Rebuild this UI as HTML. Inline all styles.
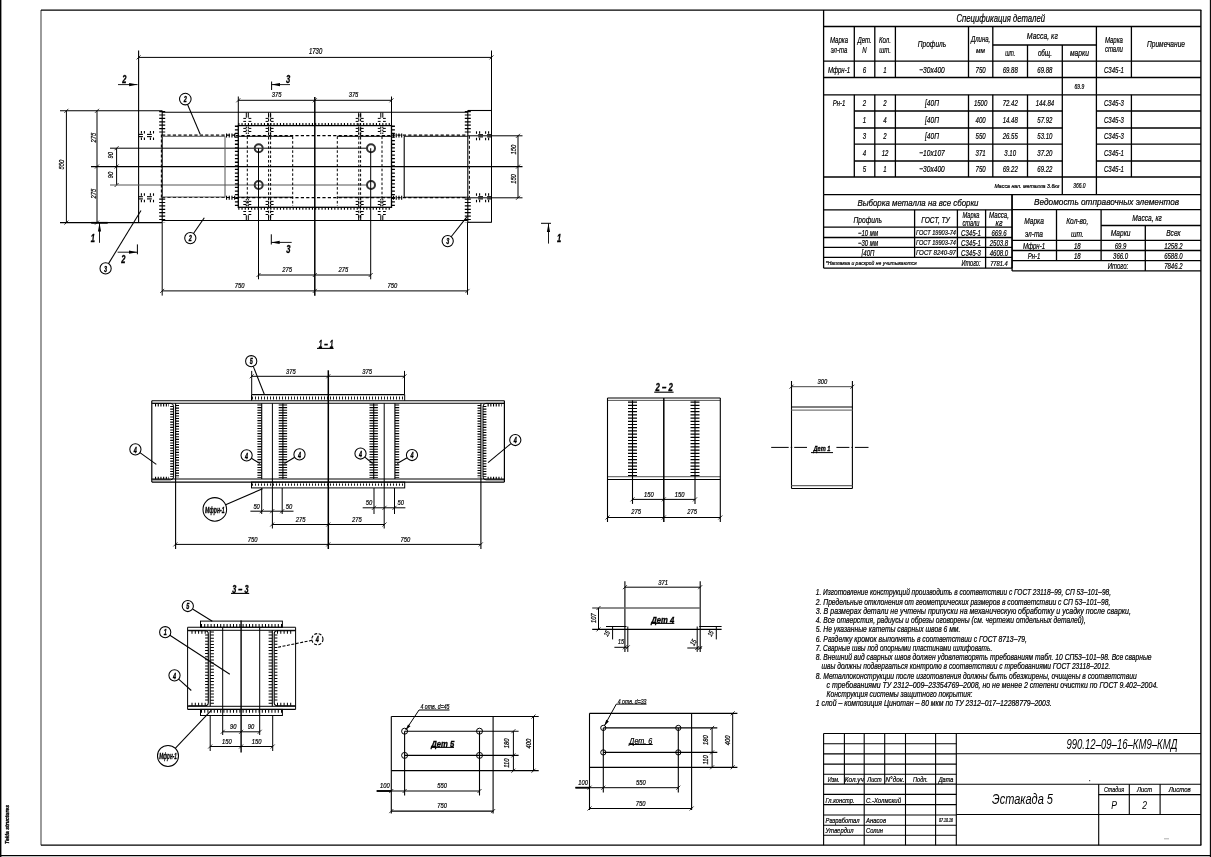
<!DOCTYPE html>
<html><head><meta charset="utf-8"><style>
html,body{margin:0;padding:0;background:#fff;}
svg{display:block;will-change:transform;}
text{font-family:"Liberation Sans",sans-serif;font-style:italic;}
</style></head><body>
<svg width="1211" height="857" viewBox="0 0 1211 857" shape-rendering="geometricPrecision">
<rect x="0" y="0" width="1211" height="857" fill="#fff"/>
<rect x="0" y="0" width="1.4" height="857" fill="#000"/>
<line x1="0" y1="855.6" x2="1211" y2="855.6" stroke="#000" stroke-width="1.1"/>
<line x1="1210.4" y1="0" x2="1210.4" y2="857" stroke="#000" stroke-width="1.1"/>
<line x1="41" y1="10" x2="41" y2="845.3" stroke="#666" stroke-width="1.3"/>
<line x1="41" y1="10.1" x2="1201.3" y2="10.1" stroke="#000" stroke-width="1.4"/>
<line x1="1200.9" y1="10" x2="1200.9" y2="845.3" stroke="#000" stroke-width="1.4"/>
<line x1="41" y1="845.2" x2="1201.3" y2="845.2" stroke="#000" stroke-width="1.3"/>
<text x="7.2" y="826.4" font-size="5.28" text-anchor="middle" textLength="39" lengthAdjust="spacingAndGlyphs" fill="#000" font-weight="bold" font-style="normal" transform="rotate(-90 7.2 824.5)" stroke="#000" stroke-width="0.33">Tekla structures</text>
<line x1="823.6" y1="10" x2="823.6" y2="194.8" stroke="#000" stroke-width="1.3"/>
<line x1="823.6" y1="26.5" x2="1200.9" y2="26.5" stroke="#000" stroke-width="1.3"/>
<line x1="823.6" y1="61.2" x2="1200.9" y2="61.2" stroke="#000" stroke-width="1.3"/>
<line x1="823.6" y1="77.5" x2="1200.9" y2="77.5" stroke="#000" stroke-width="1.3"/>
<line x1="823.6" y1="94.8" x2="1200.9" y2="94.8" stroke="#000" stroke-width="1.3"/>
<line x1="823.6" y1="177" x2="1200.9" y2="177" stroke="#000" stroke-width="1.3"/>
<line x1="823.6" y1="194.7" x2="1200.9" y2="194.7" stroke="#000" stroke-width="1.3"/>
<line x1="992.8" y1="45" x2="1096.4" y2="45" stroke="#000" stroke-width="1.3"/>
<line x1="854.3" y1="26.5" x2="854.3" y2="77.5" stroke="#000" stroke-width="1.3"/>
<line x1="874.8" y1="26.5" x2="874.8" y2="77.5" stroke="#000" stroke-width="1.3"/>
<line x1="895.4" y1="26.5" x2="895.4" y2="77.5" stroke="#000" stroke-width="1.3"/>
<line x1="968.5" y1="26.5" x2="968.5" y2="77.5" stroke="#000" stroke-width="1.3"/>
<line x1="992.8" y1="26.5" x2="992.8" y2="77.5" stroke="#000" stroke-width="1.3"/>
<line x1="1027.5" y1="45" x2="1027.5" y2="77.5" stroke="#000" stroke-width="1.3"/>
<line x1="1062.3" y1="45" x2="1062.3" y2="77.5" stroke="#000" stroke-width="1.3"/>
<line x1="1096.4" y1="26.5" x2="1096.4" y2="77.5" stroke="#000" stroke-width="1.3"/>
<line x1="1131.4" y1="26.5" x2="1131.4" y2="77.5" stroke="#000" stroke-width="1.3"/>
<line x1="1062.3" y1="77.5" x2="1062.3" y2="94.8" stroke="#000" stroke-width="1.3"/>
<line x1="1096.4" y1="77.5" x2="1096.4" y2="94.8" stroke="#000" stroke-width="1.3"/>
<line x1="854.3" y1="111" x2="1062.3" y2="111" stroke="#000" stroke-width="1.3"/>
<line x1="1096.4" y1="111" x2="1200.9" y2="111" stroke="#000" stroke-width="1.3"/>
<line x1="854.3" y1="128" x2="1062.3" y2="128" stroke="#000" stroke-width="1.3"/>
<line x1="1096.4" y1="128" x2="1200.9" y2="128" stroke="#000" stroke-width="1.3"/>
<line x1="854.3" y1="144.2" x2="1062.3" y2="144.2" stroke="#000" stroke-width="1.3"/>
<line x1="1096.4" y1="144.2" x2="1200.9" y2="144.2" stroke="#000" stroke-width="1.3"/>
<line x1="854.3" y1="161" x2="1062.3" y2="161" stroke="#000" stroke-width="1.3"/>
<line x1="1096.4" y1="161" x2="1200.9" y2="161" stroke="#000" stroke-width="1.3"/>
<line x1="854.3" y1="94.8" x2="854.3" y2="177" stroke="#000" stroke-width="1.3"/>
<line x1="874.8" y1="94.8" x2="874.8" y2="177" stroke="#000" stroke-width="1.3"/>
<line x1="895.4" y1="94.8" x2="895.4" y2="177" stroke="#000" stroke-width="1.3"/>
<line x1="968.5" y1="94.8" x2="968.5" y2="177" stroke="#000" stroke-width="1.3"/>
<line x1="992.8" y1="94.8" x2="992.8" y2="177" stroke="#000" stroke-width="1.3"/>
<line x1="1027.5" y1="94.8" x2="1027.5" y2="177" stroke="#000" stroke-width="1.3"/>
<line x1="1062.3" y1="94.8" x2="1062.3" y2="177" stroke="#000" stroke-width="1.3"/>
<line x1="1096.4" y1="94.8" x2="1096.4" y2="177" stroke="#000" stroke-width="1.3"/>
<line x1="1131.4" y1="94.8" x2="1131.4" y2="177" stroke="#000" stroke-width="1.3"/>
<line x1="1062.3" y1="177" x2="1062.3" y2="194.7" stroke="#000" stroke-width="1.3"/>
<line x1="1096.4" y1="177" x2="1096.4" y2="194.7" stroke="#000" stroke-width="1.3"/>
<text x="1000.7" y="21.85" font-size="10.14" text-anchor="middle" textLength="88.6" lengthAdjust="spacingAndGlyphs" fill="#000" stroke="#000" stroke-width="0.22">Спецификация деталей</text>
<text x="839" y="42.7" font-size="8.89" text-anchor="middle" textLength="18.04" lengthAdjust="spacingAndGlyphs" fill="#000" stroke="#000" stroke-width="0.22">Марка</text>
<text x="839" y="53.2" font-size="8.89" text-anchor="middle" textLength="16.59" lengthAdjust="spacingAndGlyphs" fill="#000" stroke="#000" stroke-width="0.22">эл-та</text>
<text x="864.5" y="42.7" font-size="8.89" text-anchor="middle" textLength="14.2" lengthAdjust="spacingAndGlyphs" fill="#000" stroke="#000" stroke-width="0.22">Дет.</text>
<text x="864.5" y="53.2" font-size="8.89" text-anchor="middle" textLength="4.37" lengthAdjust="spacingAndGlyphs" fill="#000" stroke="#000" stroke-width="0.22">N</text>
<text x="885" y="42.7" font-size="8.89" text-anchor="middle" textLength="11.88" lengthAdjust="spacingAndGlyphs" fill="#000" stroke="#000" stroke-width="0.22">Кол.</text>
<text x="885" y="53.2" font-size="8.89" text-anchor="middle" textLength="11.66" lengthAdjust="spacingAndGlyphs" fill="#000" stroke="#000" stroke-width="0.22">шт.</text>
<text x="932" y="47.3" font-size="9.17" text-anchor="middle" textLength="28.5" lengthAdjust="spacingAndGlyphs" fill="#000" stroke="#000" stroke-width="0.22">Профиль</text>
<text x="980.6" y="41.9" font-size="8.89" text-anchor="middle" textLength="19.39" lengthAdjust="spacingAndGlyphs" fill="#000" stroke="#000" stroke-width="0.22">Длина,</text>
<text x="980.6" y="53.3" font-size="7.78" text-anchor="middle" textLength="9" lengthAdjust="spacingAndGlyphs" fill="#000" stroke="#000" stroke-width="0.22">мм</text>
<text x="1042.3" y="38.8" font-size="9.17" text-anchor="middle" textLength="31" lengthAdjust="spacingAndGlyphs" fill="#000" stroke="#000" stroke-width="0.22">Масса, кг</text>
<text x="1010.2" y="56.2" font-size="8.33" text-anchor="middle" textLength="10" lengthAdjust="spacingAndGlyphs" fill="#000" stroke="#000" stroke-width="0.22">шт.</text>
<text x="1044.9" y="56.2" font-size="8.33" text-anchor="middle" textLength="14" lengthAdjust="spacingAndGlyphs" fill="#000" stroke="#000" stroke-width="0.22">общ.</text>
<text x="1079.4" y="56.2" font-size="8.33" text-anchor="middle" textLength="19" lengthAdjust="spacingAndGlyphs" fill="#000" stroke="#000" stroke-width="0.22">марки</text>
<text x="1113.9" y="43" font-size="8.89" text-anchor="middle" textLength="18.04" lengthAdjust="spacingAndGlyphs" fill="#000" stroke="#000" stroke-width="0.22">Марка</text>
<text x="1113.9" y="52.2" font-size="8.89" text-anchor="middle" textLength="18.05" lengthAdjust="spacingAndGlyphs" fill="#000" stroke="#000" stroke-width="0.22">стали</text>
<text x="1166" y="47.3" font-size="9.17" text-anchor="middle" textLength="38.01" lengthAdjust="spacingAndGlyphs" fill="#000" stroke="#000" stroke-width="0.22">Примечание</text>
<text x="839" y="72.7" font-size="8.89" text-anchor="middle" textLength="22.15" lengthAdjust="spacingAndGlyphs" fill="#000" stroke="#000" stroke-width="0.22">Мфрн-1</text>
<text x="864.5" y="72.7" font-size="8.89" text-anchor="middle" textLength="3.36" lengthAdjust="spacingAndGlyphs" fill="#000" stroke="#000" stroke-width="0.22">6</text>
<text x="885" y="72.7" font-size="8.89" text-anchor="middle" textLength="3.36" lengthAdjust="spacingAndGlyphs" fill="#000" stroke="#000" stroke-width="0.22">1</text>
<text x="932" y="72.8" font-size="9.17" text-anchor="middle" textLength="25.51" lengthAdjust="spacingAndGlyphs" fill="#000" stroke="#000" stroke-width="0.22">−30x400</text>
<text x="980.6" y="72.7" font-size="8.89" text-anchor="middle" textLength="10.08" lengthAdjust="spacingAndGlyphs" fill="#000" stroke="#000" stroke-width="0.22">750</text>
<text x="1010.2" y="72.7" font-size="8.89" text-anchor="middle" textLength="15.12" lengthAdjust="spacingAndGlyphs" fill="#000" stroke="#000" stroke-width="0.22">69.88</text>
<text x="1044.9" y="72.7" font-size="8.89" text-anchor="middle" textLength="15.12" lengthAdjust="spacingAndGlyphs" fill="#000" stroke="#000" stroke-width="0.22">69.88</text>
<text x="1113.9" y="72.7" font-size="8.89" text-anchor="middle" textLength="19.82" lengthAdjust="spacingAndGlyphs" fill="#000" stroke="#000" stroke-width="0.22">С345-1</text>
<text x="1079.4" y="88.7" font-size="6.39" text-anchor="middle" textLength="9.57" lengthAdjust="spacingAndGlyphs" fill="#000" stroke="#000" stroke-width="0.22">69.9</text>
<text x="864.5" y="106.2" font-size="8.89" text-anchor="middle" textLength="3.36" lengthAdjust="spacingAndGlyphs" fill="#000" stroke="#000" stroke-width="0.22">2</text>
<text x="885" y="106.2" font-size="8.89" text-anchor="middle" textLength="3.36" lengthAdjust="spacingAndGlyphs" fill="#000" stroke="#000" stroke-width="0.22">2</text>
<text x="932" y="106.3" font-size="9.17" text-anchor="middle" textLength="13.96" lengthAdjust="spacingAndGlyphs" fill="#000" stroke="#000" stroke-width="0.22">[40П</text>
<text x="980.6" y="106.2" font-size="8.89" text-anchor="middle" textLength="13.45" lengthAdjust="spacingAndGlyphs" fill="#000" stroke="#000" stroke-width="0.22">1500</text>
<text x="1010.2" y="106.2" font-size="8.89" text-anchor="middle" textLength="15.12" lengthAdjust="spacingAndGlyphs" fill="#000" stroke="#000" stroke-width="0.22">72.42</text>
<text x="1044.9" y="106.2" font-size="8.89" text-anchor="middle" textLength="18.49" lengthAdjust="spacingAndGlyphs" fill="#000" stroke="#000" stroke-width="0.22">144.84</text>
<text x="1113.9" y="106.2" font-size="8.89" text-anchor="middle" textLength="19.82" lengthAdjust="spacingAndGlyphs" fill="#000" stroke="#000" stroke-width="0.22">С345-3</text>
<text x="864.5" y="122.7" font-size="8.89" text-anchor="middle" textLength="3.36" lengthAdjust="spacingAndGlyphs" fill="#000" stroke="#000" stroke-width="0.22">1</text>
<text x="885" y="122.7" font-size="8.89" text-anchor="middle" textLength="3.36" lengthAdjust="spacingAndGlyphs" fill="#000" stroke="#000" stroke-width="0.22">4</text>
<text x="932" y="122.8" font-size="9.17" text-anchor="middle" textLength="13.96" lengthAdjust="spacingAndGlyphs" fill="#000" stroke="#000" stroke-width="0.22">[40П</text>
<text x="980.6" y="122.7" font-size="8.89" text-anchor="middle" textLength="10.08" lengthAdjust="spacingAndGlyphs" fill="#000" stroke="#000" stroke-width="0.22">400</text>
<text x="1010.2" y="122.7" font-size="8.89" text-anchor="middle" textLength="15.12" lengthAdjust="spacingAndGlyphs" fill="#000" stroke="#000" stroke-width="0.22">14.48</text>
<text x="1044.9" y="122.7" font-size="8.89" text-anchor="middle" textLength="15.12" lengthAdjust="spacingAndGlyphs" fill="#000" stroke="#000" stroke-width="0.22">57.92</text>
<text x="1113.9" y="122.7" font-size="8.89" text-anchor="middle" textLength="19.82" lengthAdjust="spacingAndGlyphs" fill="#000" stroke="#000" stroke-width="0.22">С345-3</text>
<text x="864.5" y="139.2" font-size="8.89" text-anchor="middle" textLength="3.36" lengthAdjust="spacingAndGlyphs" fill="#000" stroke="#000" stroke-width="0.22">3</text>
<text x="885" y="139.2" font-size="8.89" text-anchor="middle" textLength="3.36" lengthAdjust="spacingAndGlyphs" fill="#000" stroke="#000" stroke-width="0.22">2</text>
<text x="932" y="139.3" font-size="9.17" text-anchor="middle" textLength="13.96" lengthAdjust="spacingAndGlyphs" fill="#000" stroke="#000" stroke-width="0.22">[40П</text>
<text x="980.6" y="139.2" font-size="8.89" text-anchor="middle" textLength="10.08" lengthAdjust="spacingAndGlyphs" fill="#000" stroke="#000" stroke-width="0.22">550</text>
<text x="1010.2" y="139.2" font-size="8.89" text-anchor="middle" textLength="15.12" lengthAdjust="spacingAndGlyphs" fill="#000" stroke="#000" stroke-width="0.22">26.55</text>
<text x="1044.9" y="139.2" font-size="8.89" text-anchor="middle" textLength="15.12" lengthAdjust="spacingAndGlyphs" fill="#000" stroke="#000" stroke-width="0.22">53.10</text>
<text x="1113.9" y="139.2" font-size="8.89" text-anchor="middle" textLength="19.82" lengthAdjust="spacingAndGlyphs" fill="#000" stroke="#000" stroke-width="0.22">С345-3</text>
<text x="864.5" y="155.7" font-size="8.89" text-anchor="middle" textLength="3.36" lengthAdjust="spacingAndGlyphs" fill="#000" stroke="#000" stroke-width="0.22">4</text>
<text x="885" y="155.7" font-size="8.89" text-anchor="middle" textLength="6.72" lengthAdjust="spacingAndGlyphs" fill="#000" stroke="#000" stroke-width="0.22">12</text>
<text x="932" y="155.8" font-size="9.17" text-anchor="middle" textLength="25.51" lengthAdjust="spacingAndGlyphs" fill="#000" stroke="#000" stroke-width="0.22">−10x107</text>
<text x="980.6" y="155.7" font-size="8.89" text-anchor="middle" textLength="10.08" lengthAdjust="spacingAndGlyphs" fill="#000" stroke="#000" stroke-width="0.22">371</text>
<text x="1010.2" y="155.7" font-size="8.89" text-anchor="middle" textLength="11.76" lengthAdjust="spacingAndGlyphs" fill="#000" stroke="#000" stroke-width="0.22">3.10</text>
<text x="1044.9" y="155.7" font-size="8.89" text-anchor="middle" textLength="15.12" lengthAdjust="spacingAndGlyphs" fill="#000" stroke="#000" stroke-width="0.22">37.20</text>
<text x="1113.9" y="155.7" font-size="8.89" text-anchor="middle" textLength="19.82" lengthAdjust="spacingAndGlyphs" fill="#000" stroke="#000" stroke-width="0.22">С345-1</text>
<text x="864.5" y="172.2" font-size="8.89" text-anchor="middle" textLength="3.36" lengthAdjust="spacingAndGlyphs" fill="#000" stroke="#000" stroke-width="0.22">5</text>
<text x="885" y="172.2" font-size="8.89" text-anchor="middle" textLength="3.36" lengthAdjust="spacingAndGlyphs" fill="#000" stroke="#000" stroke-width="0.22">1</text>
<text x="932" y="172.3" font-size="9.17" text-anchor="middle" textLength="25.51" lengthAdjust="spacingAndGlyphs" fill="#000" stroke="#000" stroke-width="0.22">−30x400</text>
<text x="980.6" y="172.2" font-size="8.89" text-anchor="middle" textLength="10.08" lengthAdjust="spacingAndGlyphs" fill="#000" stroke="#000" stroke-width="0.22">750</text>
<text x="1010.2" y="172.2" font-size="8.89" text-anchor="middle" textLength="15.12" lengthAdjust="spacingAndGlyphs" fill="#000" stroke="#000" stroke-width="0.22">69.22</text>
<text x="1044.9" y="172.2" font-size="8.89" text-anchor="middle" textLength="15.12" lengthAdjust="spacingAndGlyphs" fill="#000" stroke="#000" stroke-width="0.22">69.22</text>
<text x="1113.9" y="172.2" font-size="8.89" text-anchor="middle" textLength="19.82" lengthAdjust="spacingAndGlyphs" fill="#000" stroke="#000" stroke-width="0.22">С345-1</text>
<text x="839" y="106.2" font-size="8.89" text-anchor="middle" textLength="12.73" lengthAdjust="spacingAndGlyphs" fill="#000" stroke="#000" stroke-width="0.22">Рн-1</text>
<text x="1059.4" y="188" font-size="6.11" text-anchor="end" textLength="65" lengthAdjust="spacingAndGlyphs" fill="#000" stroke="#000" stroke-width="0.22">Масса нап. металла 3.6кг</text>
<text x="1079.4" y="188.1" font-size="6.39" text-anchor="middle" textLength="12.31" lengthAdjust="spacingAndGlyphs" fill="#000" stroke="#000" stroke-width="0.22">366.0</text>
<line x1="823.6" y1="194.7" x2="823.6" y2="268.1" stroke="#000" stroke-width="1.3"/>
<line x1="823.6" y1="209.8" x2="1012" y2="209.8" stroke="#000" stroke-width="1.3"/>
<line x1="823.6" y1="227.1" x2="1012" y2="227.1" stroke="#000" stroke-width="1.3"/>
<line x1="823.6" y1="237.5" x2="1012" y2="237.5" stroke="#000" stroke-width="1.3"/>
<line x1="823.6" y1="247.4" x2="1012" y2="247.4" stroke="#000" stroke-width="1.3"/>
<line x1="823.6" y1="257.3" x2="1012" y2="257.3" stroke="#000" stroke-width="1.3"/>
<line x1="823.6" y1="268.1" x2="1012" y2="268.1" stroke="#000" stroke-width="1.3"/>
<line x1="914.6" y1="209.8" x2="914.6" y2="257.3" stroke="#000" stroke-width="1.3"/>
<line x1="957.4" y1="209.8" x2="957.4" y2="257.3" stroke="#000" stroke-width="1.3"/>
<line x1="985.6" y1="209.8" x2="985.6" y2="268.1" stroke="#000" stroke-width="1.3"/>
<line x1="1012" y1="194.7" x2="1012" y2="268.1" stroke="#000" stroke-width="1.3"/>
<text x="918" y="205.7" font-size="9.44" text-anchor="middle" textLength="121" lengthAdjust="spacingAndGlyphs" fill="#000" stroke="#000" stroke-width="0.22">Выборка металла на все сборки</text>
<text x="867.8" y="222.7" font-size="9.17" text-anchor="middle" textLength="28.5" lengthAdjust="spacingAndGlyphs" fill="#000" stroke="#000" stroke-width="0.22">Профиль</text>
<text x="935.6" y="222.5" font-size="8.61" text-anchor="middle" textLength="28.55" lengthAdjust="spacingAndGlyphs" fill="#000" stroke="#000" stroke-width="0.22">ГОСТ, ТУ</text>
<text x="971" y="217.9" font-size="8.61" text-anchor="middle" textLength="17" lengthAdjust="spacingAndGlyphs" fill="#000" stroke="#000" stroke-width="0.22">Марка</text>
<text x="971" y="226.3" font-size="8.61" text-anchor="middle" textLength="17" lengthAdjust="spacingAndGlyphs" fill="#000" stroke="#000" stroke-width="0.22">стали</text>
<text x="999" y="217.9" font-size="8.61" text-anchor="middle" textLength="20" lengthAdjust="spacingAndGlyphs" fill="#000" stroke="#000" stroke-width="0.22">Масса,</text>
<text x="999" y="226.3" font-size="8.61" text-anchor="middle" textLength="7" lengthAdjust="spacingAndGlyphs" fill="#000" stroke="#000" stroke-width="0.22">кг</text>
<text x="868" y="235.7" font-size="8.89" text-anchor="middle" textLength="20.22" lengthAdjust="spacingAndGlyphs" fill="#000" stroke="#000" stroke-width="0.22">−10 мм</text>
<text x="936" y="235.4" font-size="8.06" text-anchor="middle" textLength="40" lengthAdjust="spacingAndGlyphs" fill="#000" stroke="#000" stroke-width="0.22">ГОСТ 19903-74</text>
<text x="971" y="235.7" font-size="8.89" text-anchor="middle" textLength="19.82" lengthAdjust="spacingAndGlyphs" fill="#000" stroke="#000" stroke-width="0.22">С345-1</text>
<text x="999" y="235.7" font-size="8.89" text-anchor="middle" textLength="15.12" lengthAdjust="spacingAndGlyphs" fill="#000" stroke="#000" stroke-width="0.22">669.6</text>
<text x="868" y="245.6" font-size="8.89" text-anchor="middle" textLength="20.22" lengthAdjust="spacingAndGlyphs" fill="#000" stroke="#000" stroke-width="0.22">−30 мм</text>
<text x="936" y="245.3" font-size="8.06" text-anchor="middle" textLength="40" lengthAdjust="spacingAndGlyphs" fill="#000" stroke="#000" stroke-width="0.22">ГОСТ 19903-74</text>
<text x="971" y="245.6" font-size="8.89" text-anchor="middle" textLength="19.82" lengthAdjust="spacingAndGlyphs" fill="#000" stroke="#000" stroke-width="0.22">С345-1</text>
<text x="999" y="245.6" font-size="8.89" text-anchor="middle" textLength="18.49" lengthAdjust="spacingAndGlyphs" fill="#000" stroke="#000" stroke-width="0.22">2503.8</text>
<text x="868" y="255.6" font-size="8.89" text-anchor="middle" textLength="12.78" lengthAdjust="spacingAndGlyphs" fill="#000" stroke="#000" stroke-width="0.22">[40П</text>
<text x="936" y="255.3" font-size="8.06" text-anchor="middle" textLength="40" lengthAdjust="spacingAndGlyphs" fill="#000" stroke="#000" stroke-width="0.22">ГОСТ 8240-97</text>
<text x="971" y="255.6" font-size="8.89" text-anchor="middle" textLength="19.82" lengthAdjust="spacingAndGlyphs" fill="#000" stroke="#000" stroke-width="0.22">С345-3</text>
<text x="999" y="255.6" font-size="8.89" text-anchor="middle" textLength="18.49" lengthAdjust="spacingAndGlyphs" fill="#000" stroke="#000" stroke-width="0.22">4608.0</text>
<text x="825.7" y="264.8" font-size="6.11" text-anchor="start" textLength="91" lengthAdjust="spacingAndGlyphs" fill="#000" stroke="#000" stroke-width="0.22">*Наплавка и раскрой не учитываются</text>
<text x="971" y="265.8" font-size="8.33" text-anchor="middle" textLength="19" lengthAdjust="spacingAndGlyphs" fill="#000" stroke="#000" stroke-width="0.22">Итого:</text>
<text x="999" y="265.5" font-size="7.5" text-anchor="middle" textLength="17.66" lengthAdjust="spacingAndGlyphs" fill="#000" stroke="#000" stroke-width="0.22">7781.4</text>
<line x1="1012.1" y1="209.7" x2="1200.9" y2="209.7" stroke="#000" stroke-width="1.3"/>
<line x1="1012.1" y1="240.3" x2="1200.9" y2="240.3" stroke="#000" stroke-width="1.3"/>
<line x1="1012.1" y1="250.5" x2="1200.9" y2="250.5" stroke="#000" stroke-width="1.3"/>
<line x1="1012.1" y1="260.7" x2="1200.9" y2="260.7" stroke="#000" stroke-width="1.3"/>
<line x1="1012.1" y1="270.9" x2="1200.9" y2="270.9" stroke="#000" stroke-width="1.3"/>
<line x1="1101.1" y1="225.5" x2="1200.9" y2="225.5" stroke="#000" stroke-width="1.3"/>
<line x1="1056.5" y1="209.7" x2="1056.5" y2="260.7" stroke="#000" stroke-width="1.3"/>
<line x1="1101.1" y1="209.7" x2="1101.1" y2="260.7" stroke="#000" stroke-width="1.3"/>
<line x1="1145.3" y1="225.5" x2="1145.3" y2="270.9" stroke="#000" stroke-width="1.3"/>
<line x1="1012.1" y1="194.7" x2="1012.1" y2="270.9" stroke="#000" stroke-width="1.3"/>
<text x="1106.6" y="205.4" font-size="9.44" text-anchor="middle" textLength="145" lengthAdjust="spacingAndGlyphs" fill="#000" stroke="#000" stroke-width="0.22">Ведомость отправочных элементов</text>
<text x="1034" y="224.3" font-size="9.17" text-anchor="middle" textLength="19.7" lengthAdjust="spacingAndGlyphs" fill="#000" stroke="#000" stroke-width="0.22">Марка</text>
<text x="1034" y="236.8" font-size="9.17" text-anchor="middle" textLength="18.11" lengthAdjust="spacingAndGlyphs" fill="#000" stroke="#000" stroke-width="0.22">эл-та</text>
<text x="1077.3" y="224.3" font-size="9.17" text-anchor="middle" textLength="22.14" lengthAdjust="spacingAndGlyphs" fill="#000" stroke="#000" stroke-width="0.22">Кол-во,</text>
<text x="1077.3" y="236.8" font-size="9.17" text-anchor="middle" textLength="12.74" lengthAdjust="spacingAndGlyphs" fill="#000" stroke="#000" stroke-width="0.22">шт.</text>
<text x="1147" y="221.3" font-size="8.61" text-anchor="middle" textLength="29.69" lengthAdjust="spacingAndGlyphs" fill="#000" stroke="#000" stroke-width="0.22">Масса, кг</text>
<text x="1120.6" y="236.4" font-size="9.17" text-anchor="middle" textLength="19.7" lengthAdjust="spacingAndGlyphs" fill="#000" stroke="#000" stroke-width="0.22">Марки</text>
<text x="1173.4" y="236.4" font-size="9.17" text-anchor="middle" textLength="14.38" lengthAdjust="spacingAndGlyphs" fill="#000" stroke="#000" stroke-width="0.22">Всех</text>
<text x="1034" y="248.9" font-size="8.89" text-anchor="middle" textLength="22.15" lengthAdjust="spacingAndGlyphs" fill="#000" stroke="#000" stroke-width="0.22">Мфрн-1</text>
<text x="1077.3" y="248.9" font-size="8.89" text-anchor="middle" textLength="6.72" lengthAdjust="spacingAndGlyphs" fill="#000" stroke="#000" stroke-width="0.22">18</text>
<text x="1120.6" y="248.9" font-size="8.89" text-anchor="middle" textLength="11.76" lengthAdjust="spacingAndGlyphs" fill="#000" stroke="#000" stroke-width="0.22">69.9</text>
<text x="1173.4" y="248.9" font-size="8.89" text-anchor="middle" textLength="18.49" lengthAdjust="spacingAndGlyphs" fill="#000" stroke="#000" stroke-width="0.22">1258.2</text>
<text x="1034" y="258.8" font-size="8.89" text-anchor="middle" textLength="12.73" lengthAdjust="spacingAndGlyphs" fill="#000" stroke="#000" stroke-width="0.22">Рн-1</text>
<text x="1077.3" y="258.8" font-size="8.89" text-anchor="middle" textLength="6.72" lengthAdjust="spacingAndGlyphs" fill="#000" stroke="#000" stroke-width="0.22">18</text>
<text x="1120.6" y="258.8" font-size="8.89" text-anchor="middle" textLength="15.12" lengthAdjust="spacingAndGlyphs" fill="#000" stroke="#000" stroke-width="0.22">366.0</text>
<text x="1173.4" y="258.8" font-size="8.89" text-anchor="middle" textLength="18.49" lengthAdjust="spacingAndGlyphs" fill="#000" stroke="#000" stroke-width="0.22">6588.0</text>
<text x="1118" y="269" font-size="8.89" text-anchor="middle" textLength="20.6" lengthAdjust="spacingAndGlyphs" fill="#000" stroke="#000" stroke-width="0.22">Итого:</text>
<text x="1173.4" y="269" font-size="8.89" text-anchor="middle" textLength="18.49" lengthAdjust="spacingAndGlyphs" fill="#000" stroke="#000" stroke-width="0.22">7846.2</text>
<line x1="823.6" y1="733.5" x2="1200.9" y2="733.5" stroke="#000" stroke-width="1.1"/>
<line x1="823.6" y1="733.5" x2="823.6" y2="845.2" stroke="#000" stroke-width="1.1"/>
<line x1="823.6" y1="743.7" x2="956.3" y2="743.7" stroke="#000" stroke-width="1.1"/>
<line x1="823.6" y1="753.9" x2="956.3" y2="753.9" stroke="#000" stroke-width="1.1"/>
<line x1="823.6" y1="764.1" x2="956.3" y2="764.1" stroke="#000" stroke-width="1.1"/>
<line x1="823.6" y1="774.2" x2="956.3" y2="774.2" stroke="#000" stroke-width="1.1"/>
<line x1="823.6" y1="784.1" x2="956.3" y2="784.1" stroke="#000" stroke-width="1.1"/>
<line x1="823.6" y1="794.4" x2="956.3" y2="794.4" stroke="#000" stroke-width="1.1"/>
<line x1="823.6" y1="804.6" x2="956.3" y2="804.6" stroke="#000" stroke-width="1.1"/>
<line x1="823.6" y1="815" x2="956.3" y2="815" stroke="#000" stroke-width="1.1"/>
<line x1="823.6" y1="825.2" x2="956.3" y2="825.2" stroke="#000" stroke-width="1.1"/>
<line x1="823.6" y1="835.3" x2="956.3" y2="835.3" stroke="#000" stroke-width="1.1"/>
<line x1="864.2" y1="733.5" x2="864.2" y2="845.2" stroke="#000" stroke-width="1.1"/>
<line x1="905.5" y1="733.5" x2="905.5" y2="845.2" stroke="#000" stroke-width="1.1"/>
<line x1="935.6" y1="733.5" x2="935.6" y2="845.2" stroke="#000" stroke-width="1.1"/>
<line x1="956.3" y1="733.5" x2="956.3" y2="845.2" stroke="#000" stroke-width="1.1"/>
<line x1="844.4" y1="733.5" x2="844.4" y2="784.1" stroke="#000" stroke-width="1.1"/>
<line x1="884.7" y1="733.5" x2="884.7" y2="784.1" stroke="#000" stroke-width="1.1"/>
<line x1="956.3" y1="753.8" x2="1200.9" y2="753.8" stroke="#000" stroke-width="1.1"/>
<line x1="956.3" y1="784.2" x2="1200.9" y2="784.2" stroke="#000" stroke-width="1.1"/>
<line x1="956.3" y1="814.5" x2="1200.9" y2="814.5" stroke="#000" stroke-width="1.1"/>
<line x1="1098.7" y1="784.2" x2="1098.7" y2="845.2" stroke="#000" stroke-width="1.1"/>
<line x1="1129.3" y1="784.2" x2="1129.3" y2="814.5" stroke="#000" stroke-width="1.1"/>
<line x1="1160.1" y1="784.2" x2="1160.1" y2="814.5" stroke="#000" stroke-width="1.1"/>
<line x1="1098.7" y1="794.6" x2="1200.9" y2="794.6" stroke="#000" stroke-width="1.1"/>
<text x="833.7" y="781.9" font-size="7.22" text-anchor="middle" textLength="11.86" lengthAdjust="spacingAndGlyphs" fill="#000" stroke="#000" stroke-width="0.22">Изм.</text>
<text x="854.3" y="781.9" font-size="7.22" text-anchor="middle" textLength="19" lengthAdjust="spacingAndGlyphs" fill="#000" stroke="#000" stroke-width="0.22">Кол.уч</text>
<text x="874.5" y="781.9" font-size="7.22" text-anchor="middle" textLength="14.32" lengthAdjust="spacingAndGlyphs" fill="#000" stroke="#000" stroke-width="0.22">Лист</text>
<text x="895" y="781.9" font-size="7.22" text-anchor="middle" textLength="19" lengthAdjust="spacingAndGlyphs" fill="#000" stroke="#000" stroke-width="0.22">N°док.</text>
<text x="920.5" y="781.9" font-size="7.22" text-anchor="middle" textLength="14.8" lengthAdjust="spacingAndGlyphs" fill="#000" stroke="#000" stroke-width="0.22">Подп.</text>
<text x="946" y="781.9" font-size="7.22" text-anchor="middle" textLength="14.67" lengthAdjust="spacingAndGlyphs" fill="#000" stroke="#000" stroke-width="0.22">Дата</text>
<text x="825.5" y="802.9" font-size="7.22" text-anchor="start" textLength="29" lengthAdjust="spacingAndGlyphs" fill="#000" stroke="#000" stroke-width="0.22">Гл.констр.</text>
<text x="866" y="802.9" font-size="7.22" text-anchor="start" textLength="35" lengthAdjust="spacingAndGlyphs" fill="#000" stroke="#000" stroke-width="0.22">С.-Холмский</text>
<text x="825.5" y="822.8" font-size="7.22" text-anchor="start" textLength="34" lengthAdjust="spacingAndGlyphs" fill="#000" stroke="#000" stroke-width="0.22">Разработал</text>
<text x="866" y="822.8" font-size="7.22" text-anchor="start" textLength="20" lengthAdjust="spacingAndGlyphs" fill="#000" stroke="#000" stroke-width="0.22">Анасов</text>
<text x="946" y="822.2" font-size="5.28" text-anchor="middle" textLength="14" lengthAdjust="spacingAndGlyphs" fill="#000" stroke="#000" stroke-width="0.22">07.10.16</text>
<text x="825.5" y="832.9" font-size="7.22" text-anchor="start" textLength="28" lengthAdjust="spacingAndGlyphs" fill="#000" stroke="#000" stroke-width="0.22">Утвердил</text>
<text x="866" y="832.9" font-size="7.22" text-anchor="start" textLength="17" lengthAdjust="spacingAndGlyphs" fill="#000" stroke="#000" stroke-width="0.22">Солин</text>
<text x="1121.9" y="749.4" font-size="13.89" text-anchor="middle" textLength="111" lengthAdjust="spacingAndGlyphs" fill="#000">990.12–09–16–КМ9–КМД</text>
<text x="1022.5" y="804" font-size="13.89" text-anchor="middle" textLength="61" lengthAdjust="spacingAndGlyphs" fill="#000">Эстакада 5</text>
<text x="1114" y="792" font-size="7.5" text-anchor="middle" textLength="20" lengthAdjust="spacingAndGlyphs" fill="#000" stroke="#000" stroke-width="0.22">Стадия</text>
<text x="1144.6" y="792" font-size="7.5" text-anchor="middle" textLength="15" lengthAdjust="spacingAndGlyphs" fill="#000" stroke="#000" stroke-width="0.22">Лист</text>
<text x="1179.7" y="792" font-size="7.5" text-anchor="middle" textLength="22" lengthAdjust="spacingAndGlyphs" fill="#000" stroke="#000" stroke-width="0.22">Листов</text>
<text x="1114" y="809.3" font-size="11.11" text-anchor="middle" textLength="5.71" lengthAdjust="spacingAndGlyphs" fill="#000">Р</text>
<text x="1144.6" y="809.3" font-size="11.11" text-anchor="middle" textLength="4.76" lengthAdjust="spacingAndGlyphs" fill="#000">2</text>
<rect x="1089" y="780" width="1.2" height="1.2" fill="#555"/>
<line x1="1164" y1="838.8" x2="1169" y2="838.8" stroke="#777" stroke-width="0.6"/>
<text x="815.8" y="595.4" font-size="8.33" text-anchor="start" textLength="295.3" lengthAdjust="spacingAndGlyphs" fill="#000" stroke="#000" stroke-width="0.22">1. Изготовление конструкций производить в соответствии с ГОСТ 23118–99, СП 53–101–98,</text>
<text x="815.8" y="605" font-size="8.33" text-anchor="start" textLength="294.5" lengthAdjust="spacingAndGlyphs" fill="#000" stroke="#000" stroke-width="0.22">2. Предельные отклонения от геометрических размеров в соответствии с СП 53–101–98,</text>
<text x="815.8" y="614.2" font-size="8.33" text-anchor="start" textLength="315.2" lengthAdjust="spacingAndGlyphs" fill="#000" stroke="#000" stroke-width="0.22">3. В размерах детали не учтены припуски на механическую обработку  и усадку  после сварки,</text>
<text x="815.8" y="623.3" font-size="8.33" text-anchor="start" textLength="269.7" lengthAdjust="spacingAndGlyphs" fill="#000" stroke="#000" stroke-width="0.22">4. Все отверстия, радиусы и обрезы оговорены (см. чертежи отдельных деталей),</text>
<text x="815.8" y="632.2" font-size="8.33" text-anchor="start" textLength="144.5" lengthAdjust="spacingAndGlyphs" fill="#000" stroke="#000" stroke-width="0.22">5. Не указанные катеты сварных швов 6 мм.</text>
<text x="815.8" y="641.7" font-size="8.33" text-anchor="start" textLength="211.1" lengthAdjust="spacingAndGlyphs" fill="#000" stroke="#000" stroke-width="0.22">6. Разделку кромок выполнять в соответствии с ГОСТ 8713–79,</text>
<text x="815.8" y="650.8" font-size="8.33" text-anchor="start" textLength="176.4" lengthAdjust="spacingAndGlyphs" fill="#000" stroke="#000" stroke-width="0.22">7. Сварные швы под опорными пластинами шлифовать.</text>
<text x="815.8" y="659.6" font-size="8.33" text-anchor="start" textLength="335.8" lengthAdjust="spacingAndGlyphs" fill="#000" stroke="#000" stroke-width="0.22">8. Внешний вид сварных швов должен удовлетворять требованиям табл. 10 СП53–101–98. Все сварные</text>
<text x="821.5" y="669" font-size="8.33" text-anchor="start" textLength="288.8" lengthAdjust="spacingAndGlyphs" fill="#000" stroke="#000" stroke-width="0.22">швы должны подвергаться контролю в соответствии с требованиями ГОСТ 23118–2012.</text>
<text x="815.8" y="678.9" font-size="8.33" text-anchor="start" textLength="320.9" lengthAdjust="spacingAndGlyphs" fill="#000" stroke="#000" stroke-width="0.22">8. Металлоконструкции после изготовления должны быть обезжирены, очищены в соответствии</text>
<text x="826.5" y="688" font-size="8.33" text-anchor="start" textLength="331.7" lengthAdjust="spacingAndGlyphs" fill="#000" stroke="#000" stroke-width="0.22">с требованиями ТУ 2312–009–23354769–2008,  но не менее 2 степени очистки по ГОСТ 9.402–2004.</text>
<text x="826.5" y="697" font-size="8.33" text-anchor="start" textLength="145.9" lengthAdjust="spacingAndGlyphs" fill="#000" stroke="#000" stroke-width="0.22">Конструкция системы защитного покрытия:</text>
<text x="815.8" y="706" font-size="8.33" text-anchor="start" textLength="235.9" lengthAdjust="spacingAndGlyphs" fill="#000" stroke="#000" stroke-width="0.22">1 слой – композиция Цинотан – 80 мкм по ТУ 2312–017–12288779–2003.</text>
<line x1="138.6" y1="50.5" x2="138.6" y2="222.8" stroke="#000" stroke-width="1.1"/>
<line x1="491.5" y1="50.5" x2="491.5" y2="222.5" stroke="#000" stroke-width="1"/>
<line x1="138.6" y1="57.4" x2="491.5" y2="57.4" stroke="#000" stroke-width="1"/>
<line x1="136.6" y1="59.4" x2="140.6" y2="55.4" stroke="#000" stroke-width="0.8"/>
<line x1="489.5" y1="59.4" x2="493.5" y2="55.4" stroke="#000" stroke-width="0.8"/>
<text x="315.6" y="53.9" font-size="8.33" text-anchor="middle" textLength="13.2" lengthAdjust="spacingAndGlyphs" fill="#000" stroke="#000" stroke-width="0.22">1730</text>
<text x="124.4" y="82.7" font-size="10.83" text-anchor="middle" textLength="4.22" lengthAdjust="spacingAndGlyphs" fill="#000" font-weight="bold" stroke="#000" stroke-width="0.33">2</text>
<line x1="118" y1="84.6" x2="137.5" y2="84.6" stroke="#000" stroke-width="0.9"/>
<path d="M137.5 84.6 L129.1 86.2 L129.1 83 Z" fill="#000"/>
<text x="288.2" y="82.9" font-size="10.83" text-anchor="middle" textLength="4.22" lengthAdjust="spacingAndGlyphs" fill="#000" font-weight="bold" stroke="#000" stroke-width="0.33">3</text>
<line x1="271.6" y1="84.6" x2="290" y2="84.6" stroke="#000" stroke-width="0.9"/>
<path d="M271.6 84.6 L280 83 L280 86.2 Z" fill="#000"/>
<line x1="271.6" y1="81.5" x2="271.6" y2="90" stroke="#000" stroke-width="1"/>
<line x1="238.3" y1="96.5" x2="238.3" y2="125.6" stroke="#000" stroke-width="1"/>
<line x1="391.5" y1="96.5" x2="391.5" y2="125.6" stroke="#000" stroke-width="1"/>
<line x1="238.3" y1="100.3" x2="391.5" y2="100.3" stroke="#000" stroke-width="1"/>
<line x1="236.3" y1="102.3" x2="240.3" y2="98.3" stroke="#000" stroke-width="0.8"/>
<line x1="312.8" y1="102.3" x2="316.8" y2="98.3" stroke="#000" stroke-width="0.8"/>
<line x1="389.5" y1="102.3" x2="393.5" y2="98.3" stroke="#000" stroke-width="0.8"/>
<text x="276.6" y="96.7" font-size="8.06" text-anchor="middle" textLength="9.68" lengthAdjust="spacingAndGlyphs" fill="#000" stroke="#000" stroke-width="0.22">375</text>
<text x="353.5" y="96.7" font-size="8.06" text-anchor="middle" textLength="9.68" lengthAdjust="spacingAndGlyphs" fill="#000" stroke="#000" stroke-width="0.22">375</text>
<circle cx="185.3" cy="99.1" r="5.8" stroke="#000" stroke-width="1.05" fill="none"/>
<line x1="187.56" y1="104.44" x2="200.2" y2="134.3" stroke="#000" stroke-width="1.05"/>
<text x="185.3" y="102.3" font-size="8.89" text-anchor="middle" textLength="3.06" lengthAdjust="spacingAndGlyphs" fill="#000" font-weight="bold" stroke="#000" stroke-width="0.33">2</text>
<line x1="66.4" y1="110.8" x2="66.4" y2="222.6" stroke="#000" stroke-width="1"/>
<line x1="64.4" y1="112.8" x2="68.4" y2="108.8" stroke="#000" stroke-width="0.8"/>
<line x1="64.4" y1="224.6" x2="68.4" y2="220.6" stroke="#000" stroke-width="0.8"/>
<line x1="97" y1="110.8" x2="97" y2="222.6" stroke="#000" stroke-width="1"/>
<line x1="95" y1="112.8" x2="99" y2="108.8" stroke="#000" stroke-width="0.8"/>
<line x1="95" y1="168.5" x2="99" y2="164.5" stroke="#000" stroke-width="0.8"/>
<line x1="95" y1="224.6" x2="99" y2="220.6" stroke="#000" stroke-width="0.8"/>
<line x1="116.6" y1="148.2" x2="116.6" y2="185" stroke="#000" stroke-width="1"/>
<line x1="114.6" y1="150.2" x2="118.6" y2="146.2" stroke="#000" stroke-width="0.8"/>
<line x1="114.6" y1="168.5" x2="118.6" y2="164.5" stroke="#000" stroke-width="0.8"/>
<line x1="114.6" y1="187" x2="118.6" y2="183" stroke="#000" stroke-width="0.8"/>
<text x="60.8" y="167.5" font-size="8.06" text-anchor="middle" textLength="9.68" lengthAdjust="spacingAndGlyphs" fill="#000" transform="rotate(-90 60.8 164.6)" stroke="#000" stroke-width="0.22">550</text>
<text x="93" y="140.5" font-size="8.06" text-anchor="middle" textLength="9.68" lengthAdjust="spacingAndGlyphs" fill="#000" transform="rotate(-90 93 137.6)" stroke="#000" stroke-width="0.22">275</text>
<text x="93" y="196.6" font-size="8.06" text-anchor="middle" textLength="9.68" lengthAdjust="spacingAndGlyphs" fill="#000" transform="rotate(-90 93 193.7)" stroke="#000" stroke-width="0.22">275</text>
<text x="110.6" y="158.1" font-size="8.06" text-anchor="middle" textLength="6.45" lengthAdjust="spacingAndGlyphs" fill="#000" transform="rotate(-90 110.6 155.2)" stroke="#000" stroke-width="0.22">90</text>
<text x="110.6" y="177.9" font-size="8.06" text-anchor="middle" textLength="6.45" lengthAdjust="spacingAndGlyphs" fill="#000" transform="rotate(-90 110.6 175)" stroke="#000" stroke-width="0.22">90</text>
<line x1="60" y1="110.8" x2="162" y2="110.8" stroke="#000" stroke-width="1.1"/>
<line x1="162" y1="112.3" x2="467.7" y2="112.3" stroke="#000" stroke-width="1.1"/>
<line x1="467.7" y1="110.5" x2="491.5" y2="110.5" stroke="#000" stroke-width="1.1"/>
<line x1="60" y1="222.6" x2="162" y2="222.6" stroke="#000" stroke-width="1.2"/>
<line x1="162" y1="220.5" x2="467.7" y2="220.5" stroke="#000" stroke-width="1.1"/>
<line x1="467.7" y1="222.3" x2="491.5" y2="222.3" stroke="#000" stroke-width="1.1"/>
<line x1="110" y1="148.2" x2="367" y2="148.2" stroke="#000" stroke-width="1"/>
<line x1="110" y1="185" x2="367" y2="185" stroke="#555" stroke-width="1"/>
<line x1="91" y1="166.6" x2="522.5" y2="166.6" stroke="#000" stroke-width="1.4"/>
<line x1="467.7" y1="135.8" x2="522.5" y2="135.8" stroke="#000" stroke-width="1"/>
<line x1="467.7" y1="197.8" x2="522.5" y2="197.8" stroke="#000" stroke-width="1"/>
<line x1="518" y1="135.8" x2="518" y2="197.8" stroke="#000" stroke-width="1"/>
<line x1="516" y1="137.8" x2="520" y2="133.8" stroke="#000" stroke-width="0.8"/>
<line x1="516" y1="168.6" x2="520" y2="164.6" stroke="#000" stroke-width="0.8"/>
<line x1="516" y1="199.8" x2="520" y2="195.8" stroke="#000" stroke-width="0.8"/>
<text x="512.7" y="152.5" font-size="8.06" text-anchor="middle" textLength="9.68" lengthAdjust="spacingAndGlyphs" fill="#000" transform="rotate(-90 512.7 149.6)" stroke="#000" stroke-width="0.22">150</text>
<text x="512.7" y="181.9" font-size="8.06" text-anchor="middle" textLength="9.68" lengthAdjust="spacingAndGlyphs" fill="#000" transform="rotate(-90 512.7 179)" stroke="#000" stroke-width="0.22">150</text>
<line x1="162.2" y1="110.6" x2="162.2" y2="222.6" stroke="#000" stroke-width="1.1"/>
<line x1="162.2" y1="111" x2="162.2" y2="134.6" stroke="#000" stroke-width="6" stroke-dasharray="1.2 2.2"/>
<line x1="162.2" y1="198.5" x2="162.2" y2="222.4" stroke="#000" stroke-width="6" stroke-dasharray="1.2 2.2"/>
<line x1="467.8" y1="110.6" x2="467.8" y2="222.6" stroke="#000" stroke-width="1.1"/>
<line x1="467.8" y1="111" x2="467.8" y2="134.6" stroke="#000" stroke-width="6" stroke-dasharray="1.2 2.2"/>
<line x1="467.8" y1="198.5" x2="467.8" y2="222.4" stroke="#000" stroke-width="6" stroke-dasharray="1.2 2.2"/>
<line x1="161.4" y1="134.6" x2="161.4" y2="197.7" stroke="#000" stroke-width="1.1" stroke-dasharray="3 2"/>
<line x1="469.4" y1="135.8" x2="469.4" y2="197.8" stroke="#000" stroke-width="1" stroke-dasharray="3 2"/>
<line x1="162" y1="135.2" x2="236" y2="135.2" stroke="#000" stroke-width="1.2" stroke-dasharray="3.2 2.2"/>
<line x1="162" y1="136.3" x2="225" y2="136.3" stroke="#555" stroke-width="1"/>
<line x1="225" y1="136.3" x2="225" y2="197.4" stroke="#555" stroke-width="1"/>
<line x1="162" y1="197.5" x2="236" y2="197.5" stroke="#000" stroke-width="1.2" stroke-dasharray="3.2 2.2"/>
<line x1="162" y1="197" x2="225" y2="197" stroke="#555" stroke-width="1"/>
<line x1="392" y1="135.2" x2="467.6" y2="135.2" stroke="#000" stroke-width="1.2" stroke-dasharray="3.2 2.2"/>
<line x1="404" y1="136.3" x2="467.6" y2="136.3" stroke="#000" stroke-width="1.1"/>
<line x1="404.2" y1="136.3" x2="404.2" y2="197.6" stroke="#000" stroke-width="1.1"/>
<line x1="392" y1="197.7" x2="467.6" y2="197.7" stroke="#000" stroke-width="1.2" stroke-dasharray="3.2 2.2"/>
<line x1="404" y1="197.2" x2="467.6" y2="197.2" stroke="#000" stroke-width="1"/>
<line x1="138.6" y1="134.4" x2="142.9" y2="134.4" stroke="#000" stroke-width="1.1"/>
<line x1="138.6" y1="136.6" x2="142.9" y2="136.6" stroke="#000" stroke-width="1.1"/>
<line x1="147" y1="134.4" x2="151.8" y2="134.4" stroke="#000" stroke-width="1.1"/>
<line x1="147" y1="136.6" x2="151.8" y2="136.6" stroke="#000" stroke-width="1.1"/>
<line x1="141.4" y1="131" x2="141.4" y2="133.5" stroke="#000" stroke-width="1.1"/>
<line x1="141.4" y1="137.5" x2="141.4" y2="140" stroke="#000" stroke-width="1.1"/>
<line x1="144.4" y1="131" x2="144.4" y2="133.5" stroke="#000" stroke-width="1.1"/>
<line x1="144.4" y1="137.5" x2="144.4" y2="140" stroke="#000" stroke-width="1.1"/>
<line x1="150.4" y1="131" x2="150.4" y2="133.5" stroke="#000" stroke-width="1.1"/>
<line x1="150.4" y1="137.5" x2="150.4" y2="140" stroke="#000" stroke-width="1.1"/>
<line x1="153.5" y1="131" x2="153.5" y2="133.5" stroke="#000" stroke-width="1.1"/>
<line x1="153.5" y1="137.5" x2="153.5" y2="140" stroke="#000" stroke-width="1.1"/>
<line x1="138.6" y1="196.7" x2="142.9" y2="196.7" stroke="#000" stroke-width="1.1"/>
<line x1="138.6" y1="198.9" x2="142.9" y2="198.9" stroke="#000" stroke-width="1.1"/>
<line x1="147" y1="196.7" x2="151.8" y2="196.7" stroke="#000" stroke-width="1.1"/>
<line x1="147" y1="198.9" x2="151.8" y2="198.9" stroke="#000" stroke-width="1.1"/>
<line x1="141.4" y1="193.3" x2="141.4" y2="195.8" stroke="#000" stroke-width="1.1"/>
<line x1="141.4" y1="199.8" x2="141.4" y2="202.3" stroke="#000" stroke-width="1.1"/>
<line x1="144.4" y1="193.3" x2="144.4" y2="195.8" stroke="#000" stroke-width="1.1"/>
<line x1="144.4" y1="199.8" x2="144.4" y2="202.3" stroke="#000" stroke-width="1.1"/>
<line x1="150.4" y1="193.3" x2="150.4" y2="195.8" stroke="#000" stroke-width="1.1"/>
<line x1="150.4" y1="199.8" x2="150.4" y2="202.3" stroke="#000" stroke-width="1.1"/>
<line x1="153.5" y1="193.3" x2="153.5" y2="195.8" stroke="#000" stroke-width="1.1"/>
<line x1="153.5" y1="199.8" x2="153.5" y2="202.3" stroke="#000" stroke-width="1.1"/>
<line x1="491.4" y1="134.7" x2="487.1" y2="134.7" stroke="#000" stroke-width="1.1"/>
<line x1="491.4" y1="136.9" x2="487.1" y2="136.9" stroke="#000" stroke-width="1.1"/>
<line x1="483" y1="134.7" x2="478.2" y2="134.7" stroke="#000" stroke-width="1.1"/>
<line x1="483" y1="136.9" x2="478.2" y2="136.9" stroke="#000" stroke-width="1.1"/>
<line x1="488.6" y1="131.3" x2="488.6" y2="133.8" stroke="#000" stroke-width="1.1"/>
<line x1="488.6" y1="137.8" x2="488.6" y2="140.3" stroke="#000" stroke-width="1.1"/>
<line x1="485.6" y1="131.3" x2="485.6" y2="133.8" stroke="#000" stroke-width="1.1"/>
<line x1="485.6" y1="137.8" x2="485.6" y2="140.3" stroke="#000" stroke-width="1.1"/>
<line x1="479.6" y1="131.3" x2="479.6" y2="133.8" stroke="#000" stroke-width="1.1"/>
<line x1="479.6" y1="137.8" x2="479.6" y2="140.3" stroke="#000" stroke-width="1.1"/>
<line x1="476.5" y1="131.3" x2="476.5" y2="133.8" stroke="#000" stroke-width="1.1"/>
<line x1="476.5" y1="137.8" x2="476.5" y2="140.3" stroke="#000" stroke-width="1.1"/>
<line x1="491.4" y1="196.7" x2="487.1" y2="196.7" stroke="#000" stroke-width="1.1"/>
<line x1="491.4" y1="198.9" x2="487.1" y2="198.9" stroke="#000" stroke-width="1.1"/>
<line x1="483" y1="196.7" x2="478.2" y2="196.7" stroke="#000" stroke-width="1.1"/>
<line x1="483" y1="198.9" x2="478.2" y2="198.9" stroke="#000" stroke-width="1.1"/>
<line x1="488.6" y1="193.3" x2="488.6" y2="195.8" stroke="#000" stroke-width="1.1"/>
<line x1="488.6" y1="199.8" x2="488.6" y2="202.3" stroke="#000" stroke-width="1.1"/>
<line x1="485.6" y1="193.3" x2="485.6" y2="195.8" stroke="#000" stroke-width="1.1"/>
<line x1="485.6" y1="199.8" x2="485.6" y2="202.3" stroke="#000" stroke-width="1.1"/>
<line x1="479.6" y1="193.3" x2="479.6" y2="195.8" stroke="#000" stroke-width="1.1"/>
<line x1="479.6" y1="199.8" x2="479.6" y2="202.3" stroke="#000" stroke-width="1.1"/>
<line x1="476.5" y1="193.3" x2="476.5" y2="195.8" stroke="#000" stroke-width="1.1"/>
<line x1="476.5" y1="199.8" x2="476.5" y2="202.3" stroke="#000" stroke-width="1.1"/>
<line x1="226" y1="135.5" x2="236" y2="135.5" stroke="#000" stroke-width="4" stroke-dasharray="1.1 1.6"/>
<line x1="226" y1="197.7" x2="236" y2="197.7" stroke="#000" stroke-width="4" stroke-dasharray="1.1 1.6"/>
<line x1="393" y1="135.5" x2="403" y2="135.5" stroke="#000" stroke-width="4" stroke-dasharray="1.1 1.6"/>
<line x1="393" y1="197.7" x2="403" y2="197.7" stroke="#000" stroke-width="4" stroke-dasharray="1.1 1.6"/>
<rect x="238.3" y="125.6" width="153.2" height="81.7" stroke="#000" stroke-width="1.3" fill="none"/>
<line x1="238.3" y1="124.3" x2="391.5" y2="124.3" stroke="#000" stroke-width="2.5" stroke-dasharray="1.1 2.1"/>
<line x1="238.3" y1="208.6" x2="391.5" y2="208.6" stroke="#000" stroke-width="2.5" stroke-dasharray="1.1 2.1"/>
<line x1="236.6" y1="125.6" x2="236.6" y2="207.3" stroke="#000" stroke-width="3.4" stroke-dasharray="1.3 2.3"/>
<line x1="393.2" y1="125.6" x2="393.2" y2="207.3" stroke="#000" stroke-width="3.4" stroke-dasharray="1.3 2.3"/>
<line x1="236" y1="135.6" x2="392" y2="135.6" stroke="#000" stroke-width="1.2" stroke-dasharray="3.2 2.2"/>
<line x1="236" y1="197.7" x2="392" y2="197.7" stroke="#000" stroke-width="1.2" stroke-dasharray="3.2 2.2"/>
<line x1="238.3" y1="136.3" x2="293" y2="136.3" stroke="#000" stroke-width="1"/>
<line x1="337" y1="136.3" x2="392" y2="136.3" stroke="#000" stroke-width="1"/>
<line x1="238.3" y1="197.2" x2="293" y2="197.2" stroke="#000" stroke-width="1"/>
<line x1="337" y1="197.2" x2="392" y2="197.2" stroke="#000" stroke-width="1"/>
<line x1="247.3" y1="136.5" x2="247.3" y2="206" stroke="#000" stroke-width="1" stroke-dasharray="2.6 2"/>
<line x1="292.7" y1="136.5" x2="292.7" y2="206" stroke="#000" stroke-width="1" stroke-dasharray="2.6 2"/>
<line x1="337.3" y1="136.5" x2="337.3" y2="206" stroke="#000" stroke-width="1" stroke-dasharray="2.6 2"/>
<line x1="382" y1="136.5" x2="382" y2="206" stroke="#000" stroke-width="1" stroke-dasharray="2.6 2"/>
<line x1="268.6" y1="114" x2="268.6" y2="218" stroke="#000" stroke-width="1" stroke-dasharray="2.6 2"/>
<line x1="270.6" y1="114" x2="270.6" y2="218" stroke="#000" stroke-width="1" stroke-dasharray="2.6 2"/>
<line x1="358.8" y1="114" x2="358.8" y2="218" stroke="#000" stroke-width="1" stroke-dasharray="2.6 2"/>
<line x1="360.6" y1="114" x2="360.6" y2="218" stroke="#000" stroke-width="1" stroke-dasharray="2.6 2"/>
<line x1="246.3" y1="112.5" x2="246.3" y2="117.7" stroke="#000" stroke-width="1"/>
<line x1="248.3" y1="112.5" x2="248.3" y2="117.7" stroke="#000" stroke-width="1"/>
<line x1="243.3" y1="118.4" x2="251.3" y2="118.4" stroke="#000" stroke-width="1" stroke-dasharray="2.8 2.4 2.8"/>
<line x1="243.3" y1="121.4" x2="251.3" y2="121.4" stroke="#000" stroke-width="1" stroke-dasharray="2.8 2.4 2.8"/>
<line x1="243.3" y1="128.4" x2="251.3" y2="128.4" stroke="#000" stroke-width="1" stroke-dasharray="2.8 2.4 2.8"/>
<line x1="243.3" y1="131.5" x2="251.3" y2="131.5" stroke="#000" stroke-width="1" stroke-dasharray="2.8 2.4 2.8"/>
<line x1="246.3" y1="126.5" x2="246.3" y2="134" stroke="#000" stroke-width="1" stroke-dasharray="1.8 1.2"/>
<line x1="248.3" y1="126.5" x2="248.3" y2="134" stroke="#000" stroke-width="1" stroke-dasharray="1.8 1.2"/>
<line x1="246.3" y1="220.4" x2="246.3" y2="215.2" stroke="#000" stroke-width="1"/>
<line x1="248.3" y1="220.4" x2="248.3" y2="215.2" stroke="#000" stroke-width="1"/>
<line x1="243.3" y1="214.5" x2="251.3" y2="214.5" stroke="#000" stroke-width="1" stroke-dasharray="2.8 2.4 2.8"/>
<line x1="243.3" y1="211.5" x2="251.3" y2="211.5" stroke="#000" stroke-width="1" stroke-dasharray="2.8 2.4 2.8"/>
<line x1="243.3" y1="204.5" x2="251.3" y2="204.5" stroke="#000" stroke-width="1" stroke-dasharray="2.8 2.4 2.8"/>
<line x1="243.3" y1="201.4" x2="251.3" y2="201.4" stroke="#000" stroke-width="1" stroke-dasharray="2.8 2.4 2.8"/>
<line x1="246.3" y1="206.4" x2="246.3" y2="198.9" stroke="#000" stroke-width="1" stroke-dasharray="1.8 1.2"/>
<line x1="248.3" y1="206.4" x2="248.3" y2="198.9" stroke="#000" stroke-width="1" stroke-dasharray="1.8 1.2"/>
<line x1="268.6" y1="112.5" x2="268.6" y2="117.7" stroke="#000" stroke-width="1"/>
<line x1="270.6" y1="112.5" x2="270.6" y2="117.7" stroke="#000" stroke-width="1"/>
<line x1="265.6" y1="118.4" x2="273.6" y2="118.4" stroke="#000" stroke-width="1" stroke-dasharray="2.8 2.4 2.8"/>
<line x1="265.6" y1="121.4" x2="273.6" y2="121.4" stroke="#000" stroke-width="1" stroke-dasharray="2.8 2.4 2.8"/>
<line x1="265.6" y1="128.4" x2="273.6" y2="128.4" stroke="#000" stroke-width="1" stroke-dasharray="2.8 2.4 2.8"/>
<line x1="265.6" y1="131.5" x2="273.6" y2="131.5" stroke="#000" stroke-width="1" stroke-dasharray="2.8 2.4 2.8"/>
<line x1="268.6" y1="126.5" x2="268.6" y2="134" stroke="#000" stroke-width="1" stroke-dasharray="1.8 1.2"/>
<line x1="270.6" y1="126.5" x2="270.6" y2="134" stroke="#000" stroke-width="1" stroke-dasharray="1.8 1.2"/>
<line x1="268.6" y1="220.4" x2="268.6" y2="215.2" stroke="#000" stroke-width="1"/>
<line x1="270.6" y1="220.4" x2="270.6" y2="215.2" stroke="#000" stroke-width="1"/>
<line x1="265.6" y1="214.5" x2="273.6" y2="214.5" stroke="#000" stroke-width="1" stroke-dasharray="2.8 2.4 2.8"/>
<line x1="265.6" y1="211.5" x2="273.6" y2="211.5" stroke="#000" stroke-width="1" stroke-dasharray="2.8 2.4 2.8"/>
<line x1="265.6" y1="204.5" x2="273.6" y2="204.5" stroke="#000" stroke-width="1" stroke-dasharray="2.8 2.4 2.8"/>
<line x1="265.6" y1="201.4" x2="273.6" y2="201.4" stroke="#000" stroke-width="1" stroke-dasharray="2.8 2.4 2.8"/>
<line x1="268.6" y1="206.4" x2="268.6" y2="198.9" stroke="#000" stroke-width="1" stroke-dasharray="1.8 1.2"/>
<line x1="270.6" y1="206.4" x2="270.6" y2="198.9" stroke="#000" stroke-width="1" stroke-dasharray="1.8 1.2"/>
<line x1="358.7" y1="112.5" x2="358.7" y2="117.7" stroke="#000" stroke-width="1"/>
<line x1="360.7" y1="112.5" x2="360.7" y2="117.7" stroke="#000" stroke-width="1"/>
<line x1="355.7" y1="118.4" x2="363.7" y2="118.4" stroke="#000" stroke-width="1" stroke-dasharray="2.8 2.4 2.8"/>
<line x1="355.7" y1="121.4" x2="363.7" y2="121.4" stroke="#000" stroke-width="1" stroke-dasharray="2.8 2.4 2.8"/>
<line x1="355.7" y1="128.4" x2="363.7" y2="128.4" stroke="#000" stroke-width="1" stroke-dasharray="2.8 2.4 2.8"/>
<line x1="355.7" y1="131.5" x2="363.7" y2="131.5" stroke="#000" stroke-width="1" stroke-dasharray="2.8 2.4 2.8"/>
<line x1="358.7" y1="126.5" x2="358.7" y2="134" stroke="#000" stroke-width="1" stroke-dasharray="1.8 1.2"/>
<line x1="360.7" y1="126.5" x2="360.7" y2="134" stroke="#000" stroke-width="1" stroke-dasharray="1.8 1.2"/>
<line x1="358.7" y1="220.4" x2="358.7" y2="215.2" stroke="#000" stroke-width="1"/>
<line x1="360.7" y1="220.4" x2="360.7" y2="215.2" stroke="#000" stroke-width="1"/>
<line x1="355.7" y1="214.5" x2="363.7" y2="214.5" stroke="#000" stroke-width="1" stroke-dasharray="2.8 2.4 2.8"/>
<line x1="355.7" y1="211.5" x2="363.7" y2="211.5" stroke="#000" stroke-width="1" stroke-dasharray="2.8 2.4 2.8"/>
<line x1="355.7" y1="204.5" x2="363.7" y2="204.5" stroke="#000" stroke-width="1" stroke-dasharray="2.8 2.4 2.8"/>
<line x1="355.7" y1="201.4" x2="363.7" y2="201.4" stroke="#000" stroke-width="1" stroke-dasharray="2.8 2.4 2.8"/>
<line x1="358.7" y1="206.4" x2="358.7" y2="198.9" stroke="#000" stroke-width="1" stroke-dasharray="1.8 1.2"/>
<line x1="360.7" y1="206.4" x2="360.7" y2="198.9" stroke="#000" stroke-width="1" stroke-dasharray="1.8 1.2"/>
<line x1="380.8" y1="112.5" x2="380.8" y2="117.7" stroke="#000" stroke-width="1"/>
<line x1="382.8" y1="112.5" x2="382.8" y2="117.7" stroke="#000" stroke-width="1"/>
<line x1="377.8" y1="118.4" x2="385.8" y2="118.4" stroke="#000" stroke-width="1" stroke-dasharray="2.8 2.4 2.8"/>
<line x1="377.8" y1="121.4" x2="385.8" y2="121.4" stroke="#000" stroke-width="1" stroke-dasharray="2.8 2.4 2.8"/>
<line x1="377.8" y1="128.4" x2="385.8" y2="128.4" stroke="#000" stroke-width="1" stroke-dasharray="2.8 2.4 2.8"/>
<line x1="377.8" y1="131.5" x2="385.8" y2="131.5" stroke="#000" stroke-width="1" stroke-dasharray="2.8 2.4 2.8"/>
<line x1="380.8" y1="126.5" x2="380.8" y2="134" stroke="#000" stroke-width="1" stroke-dasharray="1.8 1.2"/>
<line x1="382.8" y1="126.5" x2="382.8" y2="134" stroke="#000" stroke-width="1" stroke-dasharray="1.8 1.2"/>
<line x1="380.8" y1="220.4" x2="380.8" y2="215.2" stroke="#000" stroke-width="1"/>
<line x1="382.8" y1="220.4" x2="382.8" y2="215.2" stroke="#000" stroke-width="1"/>
<line x1="377.8" y1="214.5" x2="385.8" y2="214.5" stroke="#000" stroke-width="1" stroke-dasharray="2.8 2.4 2.8"/>
<line x1="377.8" y1="211.5" x2="385.8" y2="211.5" stroke="#000" stroke-width="1" stroke-dasharray="2.8 2.4 2.8"/>
<line x1="377.8" y1="204.5" x2="385.8" y2="204.5" stroke="#000" stroke-width="1" stroke-dasharray="2.8 2.4 2.8"/>
<line x1="377.8" y1="201.4" x2="385.8" y2="201.4" stroke="#000" stroke-width="1" stroke-dasharray="2.8 2.4 2.8"/>
<line x1="380.8" y1="206.4" x2="380.8" y2="198.9" stroke="#000" stroke-width="1" stroke-dasharray="1.8 1.2"/>
<line x1="382.8" y1="206.4" x2="382.8" y2="198.9" stroke="#000" stroke-width="1" stroke-dasharray="1.8 1.2"/>
<circle cx="258.7" cy="148.2" r="4" stroke="#333" stroke-width="2" fill="none"/>
<circle cx="258.7" cy="185" r="4" stroke="#333" stroke-width="2" fill="none"/>
<circle cx="371" cy="148.2" r="4" stroke="#333" stroke-width="2" fill="none"/>
<circle cx="371" cy="185" r="4" stroke="#333" stroke-width="2" fill="none"/>
<line x1="258.5" y1="148.2" x2="258.5" y2="279.3" stroke="#000" stroke-width="1"/>
<line x1="370.7" y1="148.2" x2="370.7" y2="279.3" stroke="#000" stroke-width="1"/>
<line x1="314.8" y1="97" x2="314.8" y2="295.8" stroke="#000" stroke-width="1.5"/>
<line x1="258.5" y1="275" x2="370.7" y2="275" stroke="#000" stroke-width="1"/>
<line x1="256.5" y1="277" x2="260.5" y2="273" stroke="#000" stroke-width="0.8"/>
<line x1="312.8" y1="277" x2="316.8" y2="273" stroke="#000" stroke-width="0.8"/>
<line x1="368.7" y1="277" x2="372.7" y2="273" stroke="#000" stroke-width="0.8"/>
<text x="287.2" y="272.2" font-size="8.06" text-anchor="middle" textLength="9.68" lengthAdjust="spacingAndGlyphs" fill="#000" stroke="#000" stroke-width="0.22">275</text>
<text x="343.4" y="272.2" font-size="8.06" text-anchor="middle" textLength="9.68" lengthAdjust="spacingAndGlyphs" fill="#000" stroke="#000" stroke-width="0.22">275</text>
<line x1="162.2" y1="222.6" x2="162.2" y2="295.6" stroke="#000" stroke-width="1"/>
<line x1="467.5" y1="222.3" x2="467.5" y2="294.8" stroke="#000" stroke-width="1"/>
<line x1="162.2" y1="290.9" x2="467.5" y2="290.9" stroke="#000" stroke-width="1"/>
<line x1="160.2" y1="292.9" x2="164.2" y2="288.9" stroke="#000" stroke-width="0.8"/>
<line x1="312.8" y1="292.9" x2="316.8" y2="288.9" stroke="#000" stroke-width="0.8"/>
<line x1="465.5" y1="292.9" x2="469.5" y2="288.9" stroke="#000" stroke-width="0.8"/>
<text x="239.6" y="287.9" font-size="8.06" text-anchor="middle" textLength="9.68" lengthAdjust="spacingAndGlyphs" fill="#000" stroke="#000" stroke-width="0.22">750</text>
<text x="392.4" y="287.9" font-size="8.06" text-anchor="middle" textLength="9.68" lengthAdjust="spacingAndGlyphs" fill="#000" stroke="#000" stroke-width="0.22">750</text>
<line x1="271.3" y1="234.3" x2="271.3" y2="244.5" stroke="#000" stroke-width="1"/>
<line x1="271.3" y1="242.4" x2="291.7" y2="242.4" stroke="#000" stroke-width="0.9"/>
<path d="M271.3 242.4 L279.7 240.8 L279.7 244 Z" fill="#000"/>
<text x="288.4" y="252.5" font-size="10.83" text-anchor="middle" textLength="4.22" lengthAdjust="spacingAndGlyphs" fill="#000" font-weight="bold" stroke="#000" stroke-width="0.33">3</text>
<line x1="541" y1="223.3" x2="551" y2="223.3" stroke="#000" stroke-width="1"/>
<line x1="548.5" y1="223.3" x2="548.5" y2="243.6" stroke="#000" stroke-width="0.9"/>
<path d="M548.5 223.5 L550.1 231.9 L546.9 231.9 Z" fill="#000"/>
<text x="559.2" y="241.7" font-size="10.83" text-anchor="middle" textLength="4.22" lengthAdjust="spacingAndGlyphs" fill="#000" font-weight="bold" stroke="#000" stroke-width="0.33">1</text>
<line x1="91.2" y1="222.8" x2="107.7" y2="222.8" stroke="#000" stroke-width="1.8"/>
<line x1="99.5" y1="222.6" x2="99.5" y2="242.8" stroke="#000" stroke-width="0.9"/>
<path d="M99.5 223 L101.1 231.4 L97.9 231.4 Z" fill="#000"/>
<text x="92.8" y="241.7" font-size="10.83" text-anchor="middle" textLength="4.22" lengthAdjust="spacingAndGlyphs" fill="#000" font-weight="bold" stroke="#000" stroke-width="0.33">1</text>
<line x1="137.4" y1="244.4" x2="137.4" y2="254.3" stroke="#000" stroke-width="1"/>
<line x1="117.6" y1="252.2" x2="137.4" y2="252.2" stroke="#000" stroke-width="0.9"/>
<path d="M137.4 252.2 L129 253.8 L129 250.6 Z" fill="#000"/>
<text x="123.4" y="263.2" font-size="10.83" text-anchor="middle" textLength="4.22" lengthAdjust="spacingAndGlyphs" fill="#000" font-weight="bold" stroke="#000" stroke-width="0.33">2</text>
<circle cx="447.7" cy="241.1" r="5.6" stroke="#000" stroke-width="1.05" fill="none"/>
<line x1="451.18" y1="236.72" x2="466.7" y2="217.2" stroke="#000" stroke-width="1.05"/>
<text x="447.7" y="244.3" font-size="8.89" text-anchor="middle" textLength="3.06" lengthAdjust="spacingAndGlyphs" fill="#000" font-weight="bold" stroke="#000" stroke-width="0.33">3</text>
<circle cx="105.6" cy="268.4" r="5.6" stroke="#000" stroke-width="1.05" fill="none"/>
<line x1="108.52" y1="263.62" x2="141" y2="210.5" stroke="#000" stroke-width="1.05"/>
<text x="105.6" y="271.6" font-size="8.89" text-anchor="middle" textLength="3.06" lengthAdjust="spacingAndGlyphs" fill="#000" font-weight="bold" stroke="#000" stroke-width="0.33">3</text>
<circle cx="190.3" cy="238.1" r="5.6" stroke="#000" stroke-width="1.05" fill="none"/>
<line x1="193.47" y1="233.48" x2="204.3" y2="217.7" stroke="#000" stroke-width="1.05"/>
<text x="190.3" y="241.3" font-size="8.89" text-anchor="middle" textLength="3.06" lengthAdjust="spacingAndGlyphs" fill="#000" font-weight="bold" stroke="#000" stroke-width="0.33">2</text>
<text x="326" y="348.3" font-size="10.56" text-anchor="middle" textLength="14.6" lengthAdjust="spacingAndGlyphs" fill="#000" font-weight="bold" stroke="#000" stroke-width="0.33">1 – 1</text>
<line x1="317" y1="348.4" x2="333.6" y2="348.4" stroke="#000" stroke-width="1.1"/>
<line x1="151.8" y1="400.8" x2="504.4" y2="400.8" stroke="#000" stroke-width="1.1"/>
<line x1="151.8" y1="403.3" x2="504.4" y2="403.3" stroke="#000" stroke-width="1.1"/>
<line x1="151.8" y1="479" x2="504.4" y2="479" stroke="#000" stroke-width="1.1"/>
<line x1="151.8" y1="482.1" x2="504.4" y2="482.1" stroke="#000" stroke-width="1.1"/>
<line x1="151.8" y1="400.8" x2="151.8" y2="482.1" stroke="#000" stroke-width="1.2"/>
<line x1="504.4" y1="400.8" x2="504.4" y2="482.1" stroke="#000" stroke-width="1.2"/>
<path d="M152.4 403.4 L170.6 403.4 Q173.6 403.4 173.6 406.5 L173.6 476.8 Q173.6 479.8 170.6 479.8 L152.4 479.8" stroke="#000" stroke-width="1" fill="none"/>
<path d="M504.2 403.4 L486 403.4 Q483 403.4 483 406.5 L483 476.8 Q483 479.8 486 479.8 L504.2 479.8" stroke="#000" stroke-width="1" fill="none"/>
<line x1="175.6" y1="403.3" x2="175.6" y2="549" stroke="#000" stroke-width="1.1"/>
<line x1="480.9" y1="403.3" x2="480.9" y2="549" stroke="#000" stroke-width="1.1"/>
<line x1="155" y1="405.2" x2="169" y2="405.2" stroke="#000" stroke-width="2.4" stroke-dasharray="1.1 1.6"/>
<line x1="155" y1="477.9" x2="169" y2="477.9" stroke="#000" stroke-width="2.4" stroke-dasharray="1.1 1.6"/>
<line x1="487.6" y1="405.2" x2="501.6" y2="405.2" stroke="#000" stroke-width="2.4" stroke-dasharray="1.1 1.6"/>
<line x1="487.6" y1="477.9" x2="501.6" y2="477.9" stroke="#000" stroke-width="2.4" stroke-dasharray="1.1 1.6"/>
<line x1="171.9" y1="406" x2="171.9" y2="477" stroke="#000" stroke-width="3.4" stroke-dasharray="1.1 1.5"/>
<line x1="484.7" y1="406" x2="484.7" y2="477" stroke="#000" stroke-width="3.4" stroke-dasharray="1.1 1.5"/>
<line x1="177.3" y1="405" x2="177.3" y2="478" stroke="#000" stroke-width="3.4" stroke-dasharray="1.1 1.5"/>
<line x1="479.2" y1="405" x2="479.2" y2="478" stroke="#000" stroke-width="3.4" stroke-dasharray="1.1 1.5"/>
<line x1="251.5" y1="394.6" x2="404.7" y2="394.6" stroke="#000" stroke-width="1.1"/>
<line x1="251.5" y1="394.6" x2="251.5" y2="400.6" stroke="#000" stroke-width="1"/>
<line x1="404.7" y1="394.6" x2="404.7" y2="400.6" stroke="#000" stroke-width="1"/>
<line x1="252" y1="398" x2="404" y2="398" stroke="#000" stroke-width="3" stroke-dasharray="0.9 2.1"/>
<rect x="251.5" y="482.1" width="153.2" height="5.8" stroke="#000" stroke-width="1" fill="none"/>
<line x1="252" y1="484.6" x2="404" y2="484.6" stroke="#000" stroke-width="2.2" stroke-dasharray="0.9 2.1"/>
<line x1="261.7" y1="403.3" x2="261.7" y2="479" stroke="#000" stroke-width="1.1"/>
<line x1="282.9" y1="403.3" x2="282.9" y2="479" stroke="#000" stroke-width="1.1"/>
<line x1="373.7" y1="403.3" x2="373.7" y2="479" stroke="#000" stroke-width="1.1"/>
<line x1="394.9" y1="403.3" x2="394.9" y2="479" stroke="#000" stroke-width="1.1"/>
<line x1="259.5" y1="404.5" x2="259.5" y2="478" stroke="#000" stroke-width="4.2" stroke-dasharray="1.1 1.5"/>
<line x1="397.1" y1="404.5" x2="397.1" y2="478" stroke="#000" stroke-width="4.2" stroke-dasharray="1.1 1.5"/>
<line x1="282.9" y1="404.5" x2="282.9" y2="478" stroke="#000" stroke-width="8.4" stroke-dasharray="1.1 1.5"/>
<line x1="373.7" y1="404.5" x2="373.7" y2="478" stroke="#000" stroke-width="8.4" stroke-dasharray="1.1 1.5"/>
<line x1="272.4" y1="403.3" x2="272.4" y2="528.5" stroke="#000" stroke-width="1"/>
<line x1="384.2" y1="403.3" x2="384.2" y2="528.5" stroke="#000" stroke-width="1"/>
<line x1="328.3" y1="370.3" x2="328.3" y2="549" stroke="#000" stroke-width="1.5"/>
<line x1="251.7" y1="370.9" x2="251.7" y2="394.5" stroke="#000" stroke-width="1"/>
<line x1="404.5" y1="370.9" x2="404.5" y2="394.5" stroke="#000" stroke-width="1"/>
<line x1="251.7" y1="376.3" x2="404.5" y2="376.3" stroke="#000" stroke-width="1"/>
<line x1="249.7" y1="378.3" x2="253.7" y2="374.3" stroke="#000" stroke-width="0.8"/>
<line x1="326.3" y1="378.3" x2="330.3" y2="374.3" stroke="#000" stroke-width="0.8"/>
<line x1="402.5" y1="378.3" x2="406.5" y2="374.3" stroke="#000" stroke-width="0.8"/>
<text x="290.8" y="374.3" font-size="8.06" text-anchor="middle" textLength="9.68" lengthAdjust="spacingAndGlyphs" fill="#000" stroke="#000" stroke-width="0.22">375</text>
<text x="367.2" y="374.3" font-size="8.06" text-anchor="middle" textLength="9.68" lengthAdjust="spacingAndGlyphs" fill="#000" stroke="#000" stroke-width="0.22">375</text>
<circle cx="251.2" cy="361.2" r="5.6" stroke="#000" stroke-width="1.05" fill="none"/>
<line x1="253.26" y1="366.41" x2="264.4" y2="394.5" stroke="#000" stroke-width="1.05"/>
<text x="251.2" y="364.4" font-size="8.89" text-anchor="middle" textLength="3.06" lengthAdjust="spacingAndGlyphs" fill="#000" font-weight="bold" stroke="#000" stroke-width="0.33">5</text>
<circle cx="135.4" cy="449.3" r="5.6" stroke="#000" stroke-width="1.05" fill="none"/>
<line x1="139.94" y1="452.58" x2="156.3" y2="464.4" stroke="#000" stroke-width="1.05"/>
<text x="135.4" y="452.5" font-size="8.89" text-anchor="middle" textLength="3.06" lengthAdjust="spacingAndGlyphs" fill="#000" font-weight="bold" stroke="#000" stroke-width="0.33">4</text>
<circle cx="246.6" cy="455.3" r="5.6" stroke="#000" stroke-width="1.05" fill="none"/>
<line x1="251.37" y1="458.24" x2="259.9" y2="463.5" stroke="#000" stroke-width="1.05"/>
<text x="246.6" y="458.5" font-size="8.89" text-anchor="middle" textLength="3.06" lengthAdjust="spacingAndGlyphs" fill="#000" font-weight="bold" stroke="#000" stroke-width="0.33">4</text>
<circle cx="299.5" cy="454.4" r="5.6" stroke="#000" stroke-width="1.05" fill="none"/>
<line x1="294.7" y1="457.29" x2="284.4" y2="463.5" stroke="#000" stroke-width="1.05"/>
<text x="299.5" y="457.6" font-size="8.89" text-anchor="middle" textLength="3.06" lengthAdjust="spacingAndGlyphs" fill="#000" font-weight="bold" stroke="#000" stroke-width="0.33">4</text>
<circle cx="360.5" cy="453.5" r="5.6" stroke="#000" stroke-width="1.05" fill="none"/>
<line x1="364.83" y1="457.05" x2="372.7" y2="463.5" stroke="#000" stroke-width="1.05"/>
<text x="360.5" y="456.7" font-size="8.89" text-anchor="middle" textLength="3.06" lengthAdjust="spacingAndGlyphs" fill="#000" font-weight="bold" stroke="#000" stroke-width="0.33">4</text>
<circle cx="412" cy="455" r="5.6" stroke="#000" stroke-width="1.05" fill="none"/>
<line x1="407.14" y1="457.79" x2="397.2" y2="463.5" stroke="#000" stroke-width="1.05"/>
<text x="412" y="458.2" font-size="8.89" text-anchor="middle" textLength="3.06" lengthAdjust="spacingAndGlyphs" fill="#000" font-weight="bold" stroke="#000" stroke-width="0.33">4</text>
<circle cx="515.3" cy="440" r="5.6" stroke="#000" stroke-width="1.05" fill="none"/>
<line x1="510.99" y1="443.57" x2="488" y2="462.6" stroke="#000" stroke-width="1.05"/>
<text x="515.3" y="443.2" font-size="8.89" text-anchor="middle" textLength="3.06" lengthAdjust="spacingAndGlyphs" fill="#000" font-weight="bold" stroke="#000" stroke-width="0.33">4</text>
<circle cx="214.8" cy="509.4" r="11.8" stroke="#000" stroke-width="1.05" fill="none"/>
<line x1="225.63" y1="504.71" x2="262.6" y2="488.7" stroke="#000" stroke-width="1.05"/>
<text x="214.8" y="512.7" font-size="9.17" text-anchor="middle" textLength="19.5" lengthAdjust="spacingAndGlyphs" fill="#000" font-weight="bold" stroke="#000" stroke-width="0.33">Мфрн-1</text>
<line x1="175.4" y1="544.4" x2="480.8" y2="544.4" stroke="#000" stroke-width="1"/>
<line x1="173.4" y1="546.4" x2="177.4" y2="542.4" stroke="#000" stroke-width="0.8"/>
<line x1="326.3" y1="546.4" x2="330.3" y2="542.4" stroke="#000" stroke-width="0.8"/>
<line x1="478.8" y1="546.4" x2="482.8" y2="542.4" stroke="#000" stroke-width="0.8"/>
<text x="252.6" y="541.9" font-size="8.06" text-anchor="middle" textLength="9.68" lengthAdjust="spacingAndGlyphs" fill="#000" stroke="#000" stroke-width="0.22">750</text>
<text x="405.4" y="541.9" font-size="8.06" text-anchor="middle" textLength="9.68" lengthAdjust="spacingAndGlyphs" fill="#000" stroke="#000" stroke-width="0.22">750</text>
<line x1="272.2" y1="524.5" x2="384.5" y2="524.5" stroke="#000" stroke-width="1"/>
<line x1="270.2" y1="526.5" x2="274.2" y2="522.5" stroke="#000" stroke-width="0.8"/>
<line x1="326.3" y1="526.5" x2="330.3" y2="522.5" stroke="#000" stroke-width="0.8"/>
<line x1="382.5" y1="526.5" x2="386.5" y2="522.5" stroke="#000" stroke-width="0.8"/>
<text x="300.7" y="521.9" font-size="8.06" text-anchor="middle" textLength="9.68" lengthAdjust="spacingAndGlyphs" fill="#000" stroke="#000" stroke-width="0.22">275</text>
<text x="356.9" y="521.9" font-size="8.06" text-anchor="middle" textLength="9.68" lengthAdjust="spacingAndGlyphs" fill="#000" stroke="#000" stroke-width="0.22">275</text>
<line x1="261.7" y1="488" x2="261.7" y2="514" stroke="#000" stroke-width="1"/>
<line x1="282.2" y1="488" x2="282.2" y2="514" stroke="#000" stroke-width="1"/>
<line x1="374" y1="488" x2="374" y2="514" stroke="#000" stroke-width="1"/>
<line x1="394.5" y1="488" x2="394.5" y2="514" stroke="#000" stroke-width="1"/>
<line x1="250.4" y1="511.2" x2="293.5" y2="511.2" stroke="#000" stroke-width="1"/>
<line x1="362.7" y1="507.8" x2="405.4" y2="507.8" stroke="#000" stroke-width="1"/>
<line x1="259.7" y1="513.2" x2="263.7" y2="509.2" stroke="#000" stroke-width="0.8"/>
<line x1="270.2" y1="513.2" x2="274.2" y2="509.2" stroke="#000" stroke-width="0.8"/>
<line x1="280.2" y1="513.2" x2="284.2" y2="509.2" stroke="#000" stroke-width="0.8"/>
<line x1="372" y1="509.8" x2="376" y2="505.8" stroke="#000" stroke-width="0.8"/>
<line x1="382.5" y1="509.8" x2="386.5" y2="505.8" stroke="#000" stroke-width="0.8"/>
<line x1="392.5" y1="509.8" x2="396.5" y2="505.8" stroke="#000" stroke-width="0.8"/>
<text x="256.6" y="509.2" font-size="8.06" text-anchor="middle" textLength="6.45" lengthAdjust="spacingAndGlyphs" fill="#000" stroke="#000" stroke-width="0.22">50</text>
<text x="288.9" y="509.2" font-size="8.06" text-anchor="middle" textLength="6.45" lengthAdjust="spacingAndGlyphs" fill="#000" stroke="#000" stroke-width="0.22">50</text>
<text x="369" y="504.5" font-size="8.06" text-anchor="middle" textLength="6.45" lengthAdjust="spacingAndGlyphs" fill="#000" stroke="#000" stroke-width="0.22">50</text>
<text x="400.8" y="504.5" font-size="8.06" text-anchor="middle" textLength="6.45" lengthAdjust="spacingAndGlyphs" fill="#000" stroke="#000" stroke-width="0.22">50</text>
<text x="664.2" y="391" font-size="10.56" text-anchor="middle" textLength="17.4" lengthAdjust="spacingAndGlyphs" fill="#000" font-weight="bold" stroke="#000" stroke-width="0.33">2 – 2</text>
<line x1="654.2" y1="392.2" x2="673.6" y2="392.2" stroke="#000" stroke-width="1.1"/>
<line x1="607.5" y1="398" x2="720.3" y2="398" stroke="#000" stroke-width="1.2"/>
<line x1="607.5" y1="400.4" x2="720.3" y2="400.4" stroke="#555" stroke-width="1"/>
<line x1="607.5" y1="476.7" x2="720.3" y2="476.7" stroke="#555" stroke-width="1"/>
<line x1="607.5" y1="479.5" x2="720.3" y2="479.5" stroke="#000" stroke-width="1.2"/>
<line x1="607.5" y1="398" x2="607.5" y2="522" stroke="#000" stroke-width="1.1"/>
<line x1="720.3" y1="398" x2="720.3" y2="522" stroke="#000" stroke-width="1.1"/>
<line x1="663.8" y1="398" x2="663.8" y2="522" stroke="#000" stroke-width="1.5"/>
<line x1="632.5" y1="400.4" x2="632.5" y2="503.9" stroke="#000" stroke-width="1.1"/>
<line x1="632.5" y1="401.5" x2="632.5" y2="476" stroke="#000" stroke-width="9" stroke-dasharray="1.2 2.0"/>
<line x1="695" y1="400.4" x2="695" y2="503.9" stroke="#000" stroke-width="1.1"/>
<line x1="695" y1="401.5" x2="695" y2="476" stroke="#000" stroke-width="9" stroke-dasharray="1.2 2.0"/>
<line x1="632.5" y1="499.4" x2="695" y2="499.4" stroke="#000" stroke-width="1"/>
<line x1="630.5" y1="501.4" x2="634.5" y2="497.4" stroke="#000" stroke-width="0.8"/>
<line x1="661.8" y1="501.4" x2="665.8" y2="497.4" stroke="#000" stroke-width="0.8"/>
<line x1="693" y1="501.4" x2="697" y2="497.4" stroke="#000" stroke-width="0.8"/>
<text x="648.8" y="497.2" font-size="8.06" text-anchor="middle" textLength="9.68" lengthAdjust="spacingAndGlyphs" fill="#000" stroke="#000" stroke-width="0.22">150</text>
<text x="679.6" y="497.2" font-size="8.06" text-anchor="middle" textLength="9.68" lengthAdjust="spacingAndGlyphs" fill="#000" stroke="#000" stroke-width="0.22">150</text>
<line x1="607.5" y1="517.5" x2="720.3" y2="517.5" stroke="#000" stroke-width="1"/>
<line x1="605.5" y1="519.5" x2="609.5" y2="515.5" stroke="#000" stroke-width="0.8"/>
<line x1="661.8" y1="519.5" x2="665.8" y2="515.5" stroke="#000" stroke-width="0.8"/>
<line x1="718.3" y1="519.5" x2="722.3" y2="515.5" stroke="#000" stroke-width="0.8"/>
<text x="636.1" y="514" font-size="8.06" text-anchor="middle" textLength="9.68" lengthAdjust="spacingAndGlyphs" fill="#000" stroke="#000" stroke-width="0.22">275</text>
<text x="692.2" y="514" font-size="8.06" text-anchor="middle" textLength="9.68" lengthAdjust="spacingAndGlyphs" fill="#000" stroke="#000" stroke-width="0.22">275</text>
<line x1="791.5" y1="381" x2="791.5" y2="488.5" stroke="#000" stroke-width="1.1"/>
<line x1="852.4" y1="381" x2="852.4" y2="488.5" stroke="#000" stroke-width="1.1"/>
<line x1="791.5" y1="386.7" x2="852.4" y2="386.7" stroke="#444" stroke-width="1"/>
<line x1="789.5" y1="388.7" x2="793.5" y2="384.7" stroke="#000" stroke-width="0.8"/>
<line x1="850.4" y1="388.7" x2="854.4" y2="384.7" stroke="#000" stroke-width="0.8"/>
<text x="822.3" y="384" font-size="8.06" text-anchor="middle" textLength="9.68" lengthAdjust="spacingAndGlyphs" fill="#000" stroke="#000" stroke-width="0.22">300</text>
<line x1="791.5" y1="407" x2="852.4" y2="407" stroke="#000" stroke-width="1.1"/>
<line x1="791.5" y1="410.1" x2="852.4" y2="410.1" stroke="#777" stroke-width="1.2"/>
<line x1="791.5" y1="485.7" x2="852.4" y2="485.7" stroke="#666" stroke-width="1.3"/>
<line x1="791.5" y1="488.5" x2="852.4" y2="488.5" stroke="#000" stroke-width="1.1"/>
<line x1="771.2" y1="447.4" x2="807" y2="447.4" stroke="#000" stroke-width="1" stroke-dasharray="17.5 2 1.5 2 13 20"/>
<line x1="836.4" y1="447.4" x2="868.5" y2="447.4" stroke="#000" stroke-width="1" stroke-dasharray="13 2 1.5 2 17.5 20"/>
<text x="822" y="451.3" font-size="7.78" text-anchor="middle" textLength="17" lengthAdjust="spacingAndGlyphs" fill="#000" font-weight="bold" stroke="#000" stroke-width="0.33">Дет 1</text>
<line x1="811" y1="452.6" x2="833" y2="452.6" stroke="#000" stroke-width="1"/>
<text x="240.4" y="592.8" font-size="10.56" text-anchor="middle" textLength="16.2" lengthAdjust="spacingAndGlyphs" fill="#000" font-weight="bold" stroke="#000" stroke-width="0.33">3 – 3</text>
<line x1="231" y1="593.4" x2="249.2" y2="593.4" stroke="#000" stroke-width="1.1"/>
<rect x="200.5" y="621.1" width="81.9" height="6.2" stroke="#000" stroke-width="1" fill="none"/>
<line x1="201" y1="625.6" x2="282" y2="625.6" stroke="#000" stroke-width="3" stroke-dasharray="1 2.2"/>
<line x1="187.6" y1="627.3" x2="295.6" y2="627.3" stroke="#000" stroke-width="1.1"/>
<line x1="187.6" y1="630.3" x2="295.6" y2="630.3" stroke="#000" stroke-width="1"/>
<line x1="187.6" y1="706.3" x2="295.6" y2="706.3" stroke="#000" stroke-width="1"/>
<line x1="187.6" y1="709.4" x2="295.6" y2="709.4" stroke="#000" stroke-width="1.1"/>
<line x1="187.6" y1="627.3" x2="187.6" y2="709.4" stroke="#000" stroke-width="1"/>
<line x1="295.6" y1="627.3" x2="295.6" y2="709.4" stroke="#000" stroke-width="1"/>
<rect x="200.5" y="709.4" width="81.9" height="6.1" stroke="#000" stroke-width="1" fill="none"/>
<line x1="201" y1="711.4" x2="282" y2="711.4" stroke="#000" stroke-width="2.6" stroke-dasharray="1 2.2"/>
<path d="M188.2 630.8 L205.2 630.8 Q208.3 630.8 208.3 634 L208.3 702.6 Q208.3 705.8 205.2 705.8 L188.2 705.8" stroke="#000" stroke-width="1.1" fill="none"/>
<path d="M295 630.8 L277.3 630.8 Q274.2 630.8 274.2 634 L274.2 702.6 Q274.2 705.8 277.3 705.8 L295 705.8" stroke="#000" stroke-width="1.1" fill="none"/>
<line x1="210.2" y1="630.3" x2="210.2" y2="706.3" stroke="#000" stroke-width="1.1"/>
<line x1="272.3" y1="630.3" x2="272.3" y2="706.3" stroke="#000" stroke-width="1.1"/>
<line x1="191.5" y1="632.3" x2="206" y2="632.3" stroke="#000" stroke-width="3" stroke-dasharray="1 2.3"/>
<line x1="191.5" y1="704.3" x2="206" y2="704.3" stroke="#000" stroke-width="3" stroke-dasharray="1 2.3"/>
<line x1="277" y1="632.3" x2="292" y2="632.3" stroke="#000" stroke-width="3" stroke-dasharray="1 2.3"/>
<line x1="277" y1="704.3" x2="292" y2="704.3" stroke="#000" stroke-width="3" stroke-dasharray="1 2.3"/>
<line x1="206.6" y1="634.5" x2="206.6" y2="702" stroke="#000" stroke-width="3" stroke-dasharray="1 2.1"/>
<line x1="275.9" y1="634.5" x2="275.9" y2="702" stroke="#000" stroke-width="3" stroke-dasharray="1 2.1"/>
<line x1="212.1" y1="631.5" x2="212.1" y2="705" stroke="#000" stroke-width="3.6" stroke-dasharray="1 2.1"/>
<line x1="270.4" y1="631.5" x2="270.4" y2="705" stroke="#000" stroke-width="3.6" stroke-dasharray="1 2.1"/>
<line x1="222.7" y1="627.3" x2="222.7" y2="735" stroke="#000" stroke-width="1"/>
<line x1="259.7" y1="627.3" x2="259.7" y2="735" stroke="#000" stroke-width="1"/>
<line x1="241.1" y1="620.5" x2="241.1" y2="752.4" stroke="#000" stroke-width="1.4"/>
<line x1="210.2" y1="715.5" x2="210.2" y2="751" stroke="#000" stroke-width="1"/>
<line x1="272.7" y1="715.5" x2="272.7" y2="751" stroke="#000" stroke-width="1"/>
<line x1="222.7" y1="731.8" x2="259.7" y2="731.8" stroke="#000" stroke-width="1"/>
<line x1="220.7" y1="733.8" x2="224.7" y2="729.8" stroke="#000" stroke-width="0.8"/>
<line x1="239.1" y1="733.8" x2="243.1" y2="729.8" stroke="#000" stroke-width="0.8"/>
<line x1="257.7" y1="733.8" x2="261.7" y2="729.8" stroke="#000" stroke-width="0.8"/>
<text x="233.3" y="729.1" font-size="8.06" text-anchor="middle" textLength="6.45" lengthAdjust="spacingAndGlyphs" fill="#000" stroke="#000" stroke-width="0.22">90</text>
<text x="250.9" y="729.1" font-size="8.06" text-anchor="middle" textLength="6.45" lengthAdjust="spacingAndGlyphs" fill="#000" stroke="#000" stroke-width="0.22">90</text>
<line x1="210.2" y1="746.5" x2="272.7" y2="746.5" stroke="#000" stroke-width="1"/>
<line x1="208.2" y1="748.5" x2="212.2" y2="744.5" stroke="#000" stroke-width="0.8"/>
<line x1="239.1" y1="748.5" x2="243.1" y2="744.5" stroke="#000" stroke-width="0.8"/>
<line x1="270.7" y1="748.5" x2="274.7" y2="744.5" stroke="#000" stroke-width="0.8"/>
<text x="226.8" y="744.1" font-size="8.06" text-anchor="middle" textLength="9.68" lengthAdjust="spacingAndGlyphs" fill="#000" stroke="#000" stroke-width="0.22">150</text>
<text x="256.7" y="744.1" font-size="8.06" text-anchor="middle" textLength="9.68" lengthAdjust="spacingAndGlyphs" fill="#000" stroke="#000" stroke-width="0.22">150</text>
<circle cx="187.8" cy="606" r="5.6" stroke="#000" stroke-width="1.05" fill="none"/>
<line x1="192.56" y1="608.95" x2="212.3" y2="621.2" stroke="#000" stroke-width="1.05"/>
<text x="187.8" y="609.2" font-size="8.89" text-anchor="middle" textLength="3.06" lengthAdjust="spacingAndGlyphs" fill="#000" font-weight="bold" stroke="#000" stroke-width="0.33">5</text>
<circle cx="165.2" cy="632.2" r="5.6" stroke="#000" stroke-width="1.05" fill="none"/>
<line x1="169.89" y1="635.25" x2="229.8" y2="674.2" stroke="#000" stroke-width="1.05"/>
<text x="165.2" y="635.4" font-size="8.89" text-anchor="middle" textLength="3.06" lengthAdjust="spacingAndGlyphs" fill="#000" font-weight="bold" stroke="#000" stroke-width="0.33">1</text>
<circle cx="174.5" cy="675.3" r="5.6" stroke="#000" stroke-width="1.05" fill="none"/>
<line x1="178.65" y1="679.06" x2="191.3" y2="690.5" stroke="#000" stroke-width="1.05"/>
<text x="174.5" y="678.5" font-size="8.89" text-anchor="middle" textLength="3.06" lengthAdjust="spacingAndGlyphs" fill="#000" font-weight="bold" stroke="#000" stroke-width="0.33">4</text>
<circle cx="317.4" cy="639.2" r="5.6" stroke="#000" stroke-width="1.05" fill="none" stroke-dasharray="3 1.5"/>
<line x1="311.91" y1="640.32" x2="277.7" y2="647.3" stroke="#000" stroke-width="1.05" stroke-dasharray="3 1.5"/>
<text x="317.4" y="642.4" font-size="8.89" text-anchor="middle" textLength="3.06" lengthAdjust="spacingAndGlyphs" fill="#000" font-weight="bold" stroke="#000" stroke-width="0.33">4</text>
<circle cx="168" cy="755.9" r="10.5" stroke="#000" stroke-width="1.05" fill="none"/>
<line x1="175.23" y1="748.29" x2="211.2" y2="710.4" stroke="#000" stroke-width="1.05"/>
<text x="168" y="758.9" font-size="8.33" text-anchor="middle" textLength="17.5" lengthAdjust="spacingAndGlyphs" fill="#000" font-weight="bold" stroke="#000" stroke-width="0.33">Мфрн-1</text>
<line x1="624.9" y1="581.2" x2="624.9" y2="651.9" stroke="#000" stroke-width="1.1"/>
<line x1="627.8" y1="626.5" x2="627.8" y2="651.9" stroke="#000" stroke-width="1"/>
<line x1="700.2" y1="581.2" x2="700.2" y2="651.9" stroke="#000" stroke-width="1.1"/>
<line x1="697.2" y1="626.5" x2="697.2" y2="651.9" stroke="#000" stroke-width="1"/>
<line x1="624.9" y1="587.2" x2="700.2" y2="587.2" stroke="#000" stroke-width="1"/>
<line x1="622.9" y1="589.2" x2="626.9" y2="585.2" stroke="#000" stroke-width="0.8"/>
<line x1="698.2" y1="589.2" x2="702.2" y2="585.2" stroke="#000" stroke-width="0.8"/>
<text x="663.2" y="584.5" font-size="8.06" text-anchor="middle" textLength="9.68" lengthAdjust="spacingAndGlyphs" fill="#000" stroke="#000" stroke-width="0.22">371</text>
<line x1="592.2" y1="608" x2="700.2" y2="608" stroke="#666" stroke-width="1.3"/>
<line x1="592.2" y1="629.4" x2="721.6" y2="629.4" stroke="#000" stroke-width="1.1"/>
<line x1="606" y1="626.5" x2="626.5" y2="626.5" stroke="#000" stroke-width="1"/>
<line x1="699.2" y1="626.5" x2="721.6" y2="626.5" stroke="#000" stroke-width="1"/>
<line x1="598.5" y1="608" x2="598.5" y2="629.4" stroke="#000" stroke-width="1"/>
<line x1="596.5" y1="610" x2="600.5" y2="606" stroke="#000" stroke-width="0.8"/>
<line x1="596.5" y1="631.4" x2="600.5" y2="627.4" stroke="#000" stroke-width="0.8"/>
<text x="592.8" y="621.1" font-size="8.06" text-anchor="middle" textLength="9.68" lengthAdjust="spacingAndGlyphs" fill="#000" transform="rotate(-90 592.8 618.2)" stroke="#000" stroke-width="0.22">107</text>
<line x1="612.6" y1="626.5" x2="612.6" y2="639.4" stroke="#000" stroke-width="1"/>
<text x="606.7" y="635.9" font-size="6.94" text-anchor="middle" textLength="5.56" lengthAdjust="spacingAndGlyphs" fill="#000" transform="rotate(-60 606.7 633.4)" stroke="#000" stroke-width="0.22">15</text>
<line x1="716.3" y1="626.5" x2="716.3" y2="639.4" stroke="#000" stroke-width="1"/>
<text x="710.4" y="635.9" font-size="6.94" text-anchor="middle" textLength="5.56" lengthAdjust="spacingAndGlyphs" fill="#000" transform="rotate(-60 710.4 633.4)" stroke="#000" stroke-width="0.22">15</text>
<line x1="614.4" y1="647.3" x2="628" y2="647.3" stroke="#000" stroke-width="1"/>
<line x1="622.9" y1="649.3" x2="626.9" y2="645.3" stroke="#000" stroke-width="0.8"/>
<line x1="625.8" y1="649.3" x2="629.8" y2="645.3" stroke="#000" stroke-width="0.8"/>
<text x="621" y="644" font-size="7.5" text-anchor="middle" textLength="6.01" lengthAdjust="spacingAndGlyphs" fill="#000" stroke="#000" stroke-width="0.22">15</text>
<line x1="687.3" y1="648" x2="702" y2="648" stroke="#000" stroke-width="1"/>
<line x1="695.2" y1="650" x2="699.2" y2="646" stroke="#000" stroke-width="0.8"/>
<line x1="698.2" y1="650" x2="702.2" y2="646" stroke="#000" stroke-width="0.8"/>
<text x="693.2" y="645.1" font-size="7.5" text-anchor="middle" textLength="6.01" lengthAdjust="spacingAndGlyphs" fill="#000" transform="rotate(-60 693.2 642.4)" stroke="#000" stroke-width="0.22">15</text>
<text x="662.8" y="623" font-size="8.33" text-anchor="middle" textLength="23" lengthAdjust="spacingAndGlyphs" fill="#000" font-weight="bold" stroke="#000" stroke-width="0.33">Дет  4</text>
<line x1="651.4" y1="623.4" x2="674.3" y2="623.4" stroke="#000" stroke-width="1"/>
<line x1="391.3" y1="716.5" x2="538.7" y2="716.5" stroke="#000" stroke-width="1.2"/>
<line x1="391.3" y1="770.7" x2="538.7" y2="770.7" stroke="#000" stroke-width="1.2"/>
<line x1="391.3" y1="716.5" x2="391.3" y2="813.4" stroke="#000" stroke-width="1.1"/>
<line x1="493.1" y1="716.5" x2="493.1" y2="813.4" stroke="#000" stroke-width="1.1"/>
<line x1="533.5" y1="716.5" x2="533.5" y2="770.7" stroke="#000" stroke-width="1"/>
<line x1="531.5" y1="718.5" x2="535.5" y2="714.5" stroke="#000" stroke-width="0.8"/>
<line x1="531.5" y1="772.7" x2="535.5" y2="768.7" stroke="#000" stroke-width="0.8"/>
<text x="527.6" y="746.5" font-size="8.06" text-anchor="middle" textLength="9.68" lengthAdjust="spacingAndGlyphs" fill="#000" transform="rotate(-90 527.6 743.6)" stroke="#000" stroke-width="0.22">400</text>
<line x1="404.6" y1="731.2" x2="404.6" y2="795.5" stroke="#000" stroke-width="1.1"/>
<line x1="479.5" y1="731.2" x2="479.5" y2="795.5" stroke="#000" stroke-width="1.1"/>
<line x1="404.6" y1="731.2" x2="518.6" y2="731.2" stroke="#000" stroke-width="1.1"/>
<line x1="404.6" y1="755.4" x2="518.6" y2="755.4" stroke="#000" stroke-width="1.1"/>
<circle cx="404.6" cy="731.2" r="3" stroke="#000" stroke-width="1" fill="none"/>
<circle cx="404.6" cy="755.4" r="3" stroke="#000" stroke-width="1" fill="none"/>
<circle cx="479.5" cy="731.2" r="3" stroke="#000" stroke-width="1" fill="none"/>
<circle cx="479.5" cy="755.4" r="3" stroke="#000" stroke-width="1" fill="none"/>
<line x1="513.4" y1="731.2" x2="513.4" y2="770.7" stroke="#000" stroke-width="1"/>
<line x1="511.4" y1="733.2" x2="515.4" y2="729.2" stroke="#000" stroke-width="0.8"/>
<line x1="511.4" y1="757.4" x2="515.4" y2="753.4" stroke="#000" stroke-width="0.8"/>
<line x1="511.4" y1="772.7" x2="515.4" y2="768.7" stroke="#000" stroke-width="0.8"/>
<text x="506" y="746.2" font-size="8.06" text-anchor="middle" textLength="9.68" lengthAdjust="spacingAndGlyphs" fill="#000" transform="rotate(-90 506 743.3)" stroke="#000" stroke-width="0.22">180</text>
<text x="506" y="765.95" font-size="8.06" text-anchor="middle" textLength="9.25" lengthAdjust="spacingAndGlyphs" fill="#000" transform="rotate(-90 506 763.05)" stroke="#000" stroke-width="0.22">110</text>
<line x1="376.7" y1="791" x2="479.5" y2="791" stroke="#000" stroke-width="1"/>
<line x1="376.7" y1="791" x2="391.3" y2="791" stroke="#000" stroke-width="1.8"/>
<line x1="389.3" y1="793" x2="393.3" y2="789" stroke="#000" stroke-width="0.8"/>
<line x1="402.6" y1="793" x2="406.6" y2="789" stroke="#000" stroke-width="0.8"/>
<line x1="477.5" y1="793" x2="481.5" y2="789" stroke="#000" stroke-width="0.8"/>
<text x="384.9" y="788" font-size="8.06" text-anchor="middle" textLength="9.68" lengthAdjust="spacingAndGlyphs" fill="#000" stroke="#000" stroke-width="0.22">100</text>
<text x="442.05" y="788" font-size="8.06" text-anchor="middle" textLength="9.68" lengthAdjust="spacingAndGlyphs" fill="#000" stroke="#000" stroke-width="0.22">550</text>
<line x1="391.3" y1="811.1" x2="493.1" y2="811.1" stroke="#000" stroke-width="1.1"/>
<line x1="389.3" y1="813.1" x2="393.3" y2="809.1" stroke="#000" stroke-width="0.8"/>
<line x1="491.1" y1="813.1" x2="495.1" y2="809.1" stroke="#000" stroke-width="0.8"/>
<text x="442.2" y="808.1" font-size="8.06" text-anchor="middle" textLength="9.68" lengthAdjust="spacingAndGlyphs" fill="#000" stroke="#000" stroke-width="0.22">750</text>
<text x="420.5" y="709.2" font-size="8.06" text-anchor="start" textLength="29" lengthAdjust="spacingAndGlyphs" fill="#000" stroke="#000" stroke-width="0.22">4 отв. d=45</text>
<line x1="419" y1="710" x2="449.5" y2="710" stroke="#000" stroke-width="1"/>
<line x1="419" y1="710" x2="405.7" y2="730.1" stroke="#000" stroke-width="1"/>
<path d="M405.7 730.1 L408.05 724.38 L410.47 726.16 Z" fill="#000"/>
<text x="442.8" y="747.3" font-size="8.33" text-anchor="middle" textLength="23" lengthAdjust="spacingAndGlyphs" fill="#000" font-weight="bold" stroke="#000" stroke-width="0.33">Дет 5</text>
<line x1="431" y1="747.4" x2="454" y2="747.4" stroke="#000" stroke-width="1"/>
<line x1="589.5" y1="713.3" x2="737.4" y2="713.3" stroke="#000" stroke-width="1.2"/>
<line x1="589.5" y1="767.3" x2="737.4" y2="767.3" stroke="#000" stroke-width="1.2"/>
<line x1="589.5" y1="713.3" x2="589.5" y2="810" stroke="#000" stroke-width="1.1"/>
<line x1="691.6" y1="713.3" x2="691.6" y2="810" stroke="#000" stroke-width="1.1"/>
<line x1="732.7" y1="713.3" x2="732.7" y2="767.3" stroke="#000" stroke-width="1"/>
<line x1="730.7" y1="715.3" x2="734.7" y2="711.3" stroke="#000" stroke-width="0.8"/>
<line x1="730.7" y1="769.3" x2="734.7" y2="765.3" stroke="#000" stroke-width="0.8"/>
<text x="726.8" y="743.2" font-size="8.06" text-anchor="middle" textLength="9.68" lengthAdjust="spacingAndGlyphs" fill="#000" transform="rotate(-90 726.8 740.3)" stroke="#000" stroke-width="0.22">400</text>
<line x1="603.3" y1="727.9" x2="603.3" y2="792.6" stroke="#000" stroke-width="1.1"/>
<line x1="678.3" y1="727.9" x2="678.3" y2="792.6" stroke="#000" stroke-width="1.1"/>
<line x1="603.3" y1="727.9" x2="717.3" y2="727.9" stroke="#000" stroke-width="1.1"/>
<line x1="603.3" y1="752.4" x2="717.3" y2="752.4" stroke="#000" stroke-width="1.1"/>
<circle cx="603.3" cy="727.9" r="2.6" stroke="#000" stroke-width="1" fill="none"/>
<circle cx="603.3" cy="752.4" r="2.6" stroke="#000" stroke-width="1" fill="none"/>
<circle cx="678.3" cy="727.9" r="2.6" stroke="#000" stroke-width="1" fill="none"/>
<circle cx="678.3" cy="752.4" r="2.6" stroke="#000" stroke-width="1" fill="none"/>
<line x1="712.1" y1="727.9" x2="712.1" y2="767.3" stroke="#000" stroke-width="1"/>
<line x1="710.1" y1="729.9" x2="714.1" y2="725.9" stroke="#000" stroke-width="0.8"/>
<line x1="710.1" y1="754.4" x2="714.1" y2="750.4" stroke="#000" stroke-width="0.8"/>
<line x1="710.1" y1="769.3" x2="714.1" y2="765.3" stroke="#000" stroke-width="0.8"/>
<text x="704.7" y="743.05" font-size="8.06" text-anchor="middle" textLength="9.68" lengthAdjust="spacingAndGlyphs" fill="#000" transform="rotate(-90 704.7 740.15)" stroke="#000" stroke-width="0.22">180</text>
<text x="704.7" y="762.75" font-size="8.06" text-anchor="middle" textLength="9.25" lengthAdjust="spacingAndGlyphs" fill="#000" transform="rotate(-90 704.7 759.85)" stroke="#000" stroke-width="0.22">110</text>
<line x1="575.4" y1="787.7" x2="678.3" y2="787.7" stroke="#000" stroke-width="1"/>
<line x1="575.4" y1="787.7" x2="589.5" y2="787.7" stroke="#000" stroke-width="1.8"/>
<line x1="587.5" y1="789.7" x2="591.5" y2="785.7" stroke="#000" stroke-width="0.8"/>
<line x1="601.3" y1="789.7" x2="605.3" y2="785.7" stroke="#000" stroke-width="0.8"/>
<line x1="676.3" y1="789.7" x2="680.3" y2="785.7" stroke="#000" stroke-width="0.8"/>
<text x="583.1" y="784.7" font-size="8.06" text-anchor="middle" textLength="9.68" lengthAdjust="spacingAndGlyphs" fill="#000" stroke="#000" stroke-width="0.22">100</text>
<text x="640.8" y="784.7" font-size="8.06" text-anchor="middle" textLength="9.68" lengthAdjust="spacingAndGlyphs" fill="#000" stroke="#000" stroke-width="0.22">550</text>
<line x1="589.5" y1="808.5" x2="691.6" y2="808.5" stroke="#000" stroke-width="1.1"/>
<line x1="587.5" y1="810.5" x2="591.5" y2="806.5" stroke="#000" stroke-width="0.8"/>
<line x1="689.6" y1="810.5" x2="693.6" y2="806.5" stroke="#000" stroke-width="0.8"/>
<text x="640.55" y="805.5" font-size="8.06" text-anchor="middle" textLength="9.68" lengthAdjust="spacingAndGlyphs" fill="#000" stroke="#000" stroke-width="0.22">750</text>
<text x="617.8" y="704" font-size="8.06" text-anchor="start" textLength="28.7" lengthAdjust="spacingAndGlyphs" fill="#000" stroke="#000" stroke-width="0.22">4 отв. d=33</text>
<line x1="616.3" y1="704.1" x2="646.5" y2="704.1" stroke="#000" stroke-width="1"/>
<line x1="616.3" y1="704.1" x2="604.4" y2="725.7" stroke="#000" stroke-width="1"/>
<path d="M604.4 725.7 L606.29 719.81 L608.84 721.39 Z" fill="#000"/>
<text x="640.8" y="743.5" font-size="8.33" text-anchor="middle" textLength="23" lengthAdjust="spacingAndGlyphs" fill="#000" stroke="#000" stroke-width="0.22">Дет. 6</text>
<line x1="629.2" y1="744.5" x2="652.7" y2="744.5" stroke="#000" stroke-width="1"/>
</svg></body></html>
